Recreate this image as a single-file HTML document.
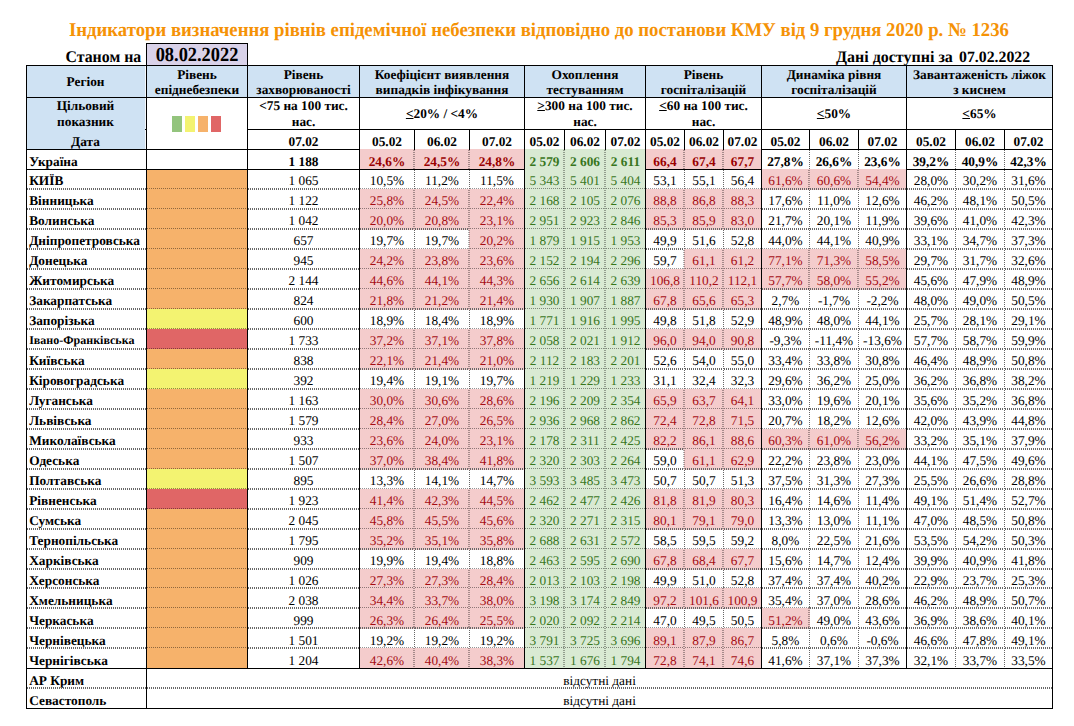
<!DOCTYPE html>
<html lang="uk"><head><meta charset="utf-8"><title>Індикатори епідемічної небезпеки</title>
<style>
html,body{margin:0;padding:0;background:#fff}
body{width:1074px;height:726px;position:relative;overflow:hidden;font-family:"Liberation Serif","DejaVu Serif",serif;color:#000;text-rendering:geometricPrecision}
div{position:absolute;box-sizing:border-box}
.x{font-size:13.33px;white-space:nowrap}
.bd{font-weight:bold}
.r{color:#a50d14}
.bd.r{color:#990000}
.g{color:#38761d}
.hl{height:1px;background:#000}
.vl{width:1px;background:#000}
.hd{height:2px;background-image:repeating-linear-gradient(90deg,#686868 0,#686868 1px,transparent 1px,transparent 2px)}
.hf{height:1px;background-image:repeating-linear-gradient(90deg,rgba(0,0,0,.42) 0,rgba(0,0,0,.42) 1px,transparent 1px,transparent 2px)}
.vd{width:1px;background-image:repeating-linear-gradient(180deg,#666 0,#666 1px,transparent 1px,transparent 2px)}
.vd2{width:2px;background-image:repeating-linear-gradient(180deg,rgba(0,0,0,.33) 0,rgba(0,0,0,.33) 1px,transparent 1px,transparent 2px)}
.t{white-space:nowrap;font-weight:bold}
u{text-decoration:underline;text-decoration-thickness:1px;text-underline-offset:0.3px}
</style></head>
<body>
<div class="b" style="left:26px;top:65px;width:1027px;height:33px;background:#cfe2f3"></div>
<div class="b" style="left:26px;top:97px;width:120px;height:53px;background:#cfe2f3"></div>
<div class="b" style="left:146px;top:43px;width:102px;height:23px;background:#d9d2e9"></div>
<div class="b" style="left:145px;top:66px;width:1px;height:83px;background:#f4f8fc"></div>
<div class="x bd" style="left:27px;top:153.51px;width:119px;height:15.00px;line-height:15.0px;text-align:left;padding-left:2.2px;">Україна</div>
<div class="x bd" style="left:248px;top:153.51px;width:111px;height:15.00px;line-height:15.0px;text-align:center;">1 188</div>
<div class="b" style="left:359px;top:149px;width:56px;height:21px;background:#f4cccc"></div>
<div class="x bd r" style="left:360px;top:153.51px;width:54px;height:15.00px;line-height:15.0px;text-align:center;">24,6%</div>
<div class="b" style="left:414px;top:149px;width:56px;height:21px;background:#f4cccc"></div>
<div class="x bd r" style="left:415px;top:153.51px;width:54px;height:15.00px;line-height:15.0px;text-align:center;">24,5%</div>
<div class="b" style="left:469px;top:149px;width:56px;height:21px;background:#f4cccc"></div>
<div class="x bd r" style="left:470px;top:153.51px;width:54px;height:15.00px;line-height:15.0px;text-align:center;">24,8%</div>
<div class="b" style="left:524px;top:149px;width:41px;height:21px;background:#d9ead3"></div>
<div class="x bd g" style="left:525px;top:153.51px;width:39px;height:15.00px;line-height:15.0px;text-align:center;">2 579</div>
<div class="b" style="left:564px;top:149px;width:42px;height:21px;background:#d9ead3"></div>
<div class="x bd g" style="left:565px;top:153.51px;width:40px;height:15.00px;line-height:15.0px;text-align:center;">2 606</div>
<div class="b" style="left:605px;top:149px;width:41px;height:21px;background:#d9ead3"></div>
<div class="x bd g" style="left:606px;top:153.51px;width:39px;height:15.00px;line-height:15.0px;text-align:center;">2 611</div>
<div class="b" style="left:645px;top:149px;width:40px;height:21px;background:#f4cccc"></div>
<div class="x bd r" style="left:646px;top:153.51px;width:38px;height:15.00px;line-height:15.0px;text-align:center;">66,4</div>
<div class="b" style="left:684px;top:149px;width:40px;height:21px;background:#f4cccc"></div>
<div class="x bd r" style="left:685px;top:153.51px;width:38px;height:15.00px;line-height:15.0px;text-align:center;">67,4</div>
<div class="b" style="left:723px;top:149px;width:39px;height:21px;background:#f4cccc"></div>
<div class="x bd r" style="left:724px;top:153.51px;width:37px;height:15.00px;line-height:15.0px;text-align:center;">67,7</div>
<div class="x bd" style="left:762px;top:153.51px;width:47px;height:15.00px;line-height:15.0px;text-align:center;">27,8%</div>
<div class="x bd" style="left:810px;top:153.51px;width:48px;height:15.00px;line-height:15.0px;text-align:center;">26,6%</div>
<div class="x bd" style="left:859px;top:153.51px;width:47px;height:15.00px;line-height:15.0px;text-align:center;">23,6%</div>
<div class="x bd" style="left:907px;top:153.51px;width:48px;height:15.00px;line-height:15.0px;text-align:center;">39,2%</div>
<div class="x bd" style="left:956px;top:153.51px;width:48px;height:15.00px;line-height:15.0px;text-align:center;">40,9%</div>
<div class="x bd" style="left:1005px;top:153.51px;width:47px;height:15.00px;line-height:15.0px;text-align:center;">42,3%</div>
<div class="x bd" style="left:27px;top:173.47px;width:119px;height:15.00px;line-height:15.0px;text-align:left;padding-left:2.2px;">КИЇВ</div>
<div class="b" style="left:146px;top:169px;width:102px;height:21px;background:#f6b26b"></div>
<div class="x " style="left:248px;top:173.47px;width:111px;height:15.00px;line-height:15.0px;text-align:center;">1 065</div>
<div class="x " style="left:360px;top:173.47px;width:54px;height:15.00px;line-height:15.0px;text-align:center;">10,5%</div>
<div class="x " style="left:415px;top:173.47px;width:54px;height:15.00px;line-height:15.0px;text-align:center;">11,2%</div>
<div class="x " style="left:470px;top:173.47px;width:54px;height:15.00px;line-height:15.0px;text-align:center;">11,5%</div>
<div class="b" style="left:524px;top:169px;width:41px;height:21px;background:#d9ead3"></div>
<div class="x g" style="left:525px;top:173.47px;width:39px;height:15.00px;line-height:15.0px;text-align:center;">5 343</div>
<div class="b" style="left:564px;top:169px;width:42px;height:21px;background:#d9ead3"></div>
<div class="x g" style="left:565px;top:173.47px;width:40px;height:15.00px;line-height:15.0px;text-align:center;">5 401</div>
<div class="b" style="left:605px;top:169px;width:41px;height:21px;background:#d9ead3"></div>
<div class="x g" style="left:606px;top:173.47px;width:39px;height:15.00px;line-height:15.0px;text-align:center;">5 404</div>
<div class="x " style="left:646px;top:173.47px;width:38px;height:15.00px;line-height:15.0px;text-align:center;">53,1</div>
<div class="x " style="left:685px;top:173.47px;width:38px;height:15.00px;line-height:15.0px;text-align:center;">55,1</div>
<div class="x " style="left:724px;top:173.47px;width:37px;height:15.00px;line-height:15.0px;text-align:center;">56,4</div>
<div class="b" style="left:761px;top:169px;width:49px;height:21px;background:#f4cccc"></div>
<div class="x r" style="left:762px;top:173.47px;width:47px;height:15.00px;line-height:15.0px;text-align:center;">61,6%</div>
<div class="b" style="left:809px;top:169px;width:50px;height:21px;background:#f4cccc"></div>
<div class="x r" style="left:810px;top:173.47px;width:48px;height:15.00px;line-height:15.0px;text-align:center;">60,6%</div>
<div class="b" style="left:858px;top:169px;width:49px;height:21px;background:#f4cccc"></div>
<div class="x r" style="left:859px;top:173.47px;width:47px;height:15.00px;line-height:15.0px;text-align:center;">54,4%</div>
<div class="x " style="left:907px;top:173.47px;width:48px;height:15.00px;line-height:15.0px;text-align:center;">28,0%</div>
<div class="x " style="left:956px;top:173.47px;width:48px;height:15.00px;line-height:15.0px;text-align:center;">30,2%</div>
<div class="x " style="left:1005px;top:173.47px;width:47px;height:15.00px;line-height:15.0px;text-align:center;">31,6%</div>
<div class="x bd" style="left:27px;top:193.43px;width:119px;height:15.00px;line-height:15.0px;text-align:left;padding-left:2.2px;">Вінницька</div>
<div class="b" style="left:146px;top:189px;width:102px;height:21px;background:#f6b26b"></div>
<div class="x " style="left:248px;top:193.43px;width:111px;height:15.00px;line-height:15.0px;text-align:center;">1 122</div>
<div class="b" style="left:359px;top:189px;width:56px;height:21px;background:#f4cccc"></div>
<div class="x r" style="left:360px;top:193.43px;width:54px;height:15.00px;line-height:15.0px;text-align:center;">25,8%</div>
<div class="b" style="left:414px;top:189px;width:56px;height:21px;background:#f4cccc"></div>
<div class="x r" style="left:415px;top:193.43px;width:54px;height:15.00px;line-height:15.0px;text-align:center;">24,5%</div>
<div class="b" style="left:469px;top:189px;width:56px;height:21px;background:#f4cccc"></div>
<div class="x r" style="left:470px;top:193.43px;width:54px;height:15.00px;line-height:15.0px;text-align:center;">22,4%</div>
<div class="b" style="left:524px;top:189px;width:41px;height:21px;background:#d9ead3"></div>
<div class="x g" style="left:525px;top:193.43px;width:39px;height:15.00px;line-height:15.0px;text-align:center;">2 168</div>
<div class="b" style="left:564px;top:189px;width:42px;height:21px;background:#d9ead3"></div>
<div class="x g" style="left:565px;top:193.43px;width:40px;height:15.00px;line-height:15.0px;text-align:center;">2 105</div>
<div class="b" style="left:605px;top:189px;width:41px;height:21px;background:#d9ead3"></div>
<div class="x g" style="left:606px;top:193.43px;width:39px;height:15.00px;line-height:15.0px;text-align:center;">2 076</div>
<div class="b" style="left:645px;top:189px;width:40px;height:21px;background:#f4cccc"></div>
<div class="x r" style="left:646px;top:193.43px;width:38px;height:15.00px;line-height:15.0px;text-align:center;">88,8</div>
<div class="b" style="left:684px;top:189px;width:40px;height:21px;background:#f4cccc"></div>
<div class="x r" style="left:685px;top:193.43px;width:38px;height:15.00px;line-height:15.0px;text-align:center;">86,8</div>
<div class="b" style="left:723px;top:189px;width:39px;height:21px;background:#f4cccc"></div>
<div class="x r" style="left:724px;top:193.43px;width:37px;height:15.00px;line-height:15.0px;text-align:center;">88,3</div>
<div class="x " style="left:762px;top:193.43px;width:47px;height:15.00px;line-height:15.0px;text-align:center;">17,6%</div>
<div class="x " style="left:810px;top:193.43px;width:48px;height:15.00px;line-height:15.0px;text-align:center;">11,0%</div>
<div class="x " style="left:859px;top:193.43px;width:47px;height:15.00px;line-height:15.0px;text-align:center;">12,6%</div>
<div class="x " style="left:907px;top:193.43px;width:48px;height:15.00px;line-height:15.0px;text-align:center;">46,2%</div>
<div class="x " style="left:956px;top:193.43px;width:48px;height:15.00px;line-height:15.0px;text-align:center;">48,1%</div>
<div class="x " style="left:1005px;top:193.43px;width:47px;height:15.00px;line-height:15.0px;text-align:center;">50,5%</div>
<div class="x bd" style="left:27px;top:213.39px;width:119px;height:15.00px;line-height:15.0px;text-align:left;padding-left:2.2px;">Волинська</div>
<div class="b" style="left:146px;top:209px;width:102px;height:21px;background:#f6b26b"></div>
<div class="x " style="left:248px;top:213.39px;width:111px;height:15.00px;line-height:15.0px;text-align:center;">1 042</div>
<div class="b" style="left:359px;top:209px;width:56px;height:21px;background:#f4cccc"></div>
<div class="x r" style="left:360px;top:213.39px;width:54px;height:15.00px;line-height:15.0px;text-align:center;">20,0%</div>
<div class="b" style="left:414px;top:209px;width:56px;height:21px;background:#f4cccc"></div>
<div class="x r" style="left:415px;top:213.39px;width:54px;height:15.00px;line-height:15.0px;text-align:center;">20,8%</div>
<div class="b" style="left:469px;top:209px;width:56px;height:21px;background:#f4cccc"></div>
<div class="x r" style="left:470px;top:213.39px;width:54px;height:15.00px;line-height:15.0px;text-align:center;">23,1%</div>
<div class="b" style="left:524px;top:209px;width:41px;height:21px;background:#d9ead3"></div>
<div class="x g" style="left:525px;top:213.39px;width:39px;height:15.00px;line-height:15.0px;text-align:center;">2 951</div>
<div class="b" style="left:564px;top:209px;width:42px;height:21px;background:#d9ead3"></div>
<div class="x g" style="left:565px;top:213.39px;width:40px;height:15.00px;line-height:15.0px;text-align:center;">2 923</div>
<div class="b" style="left:605px;top:209px;width:41px;height:21px;background:#d9ead3"></div>
<div class="x g" style="left:606px;top:213.39px;width:39px;height:15.00px;line-height:15.0px;text-align:center;">2 846</div>
<div class="b" style="left:645px;top:209px;width:40px;height:21px;background:#f4cccc"></div>
<div class="x r" style="left:646px;top:213.39px;width:38px;height:15.00px;line-height:15.0px;text-align:center;">85,3</div>
<div class="b" style="left:684px;top:209px;width:40px;height:21px;background:#f4cccc"></div>
<div class="x r" style="left:685px;top:213.39px;width:38px;height:15.00px;line-height:15.0px;text-align:center;">85,9</div>
<div class="b" style="left:723px;top:209px;width:39px;height:21px;background:#f4cccc"></div>
<div class="x r" style="left:724px;top:213.39px;width:37px;height:15.00px;line-height:15.0px;text-align:center;">83,0</div>
<div class="x " style="left:762px;top:213.39px;width:47px;height:15.00px;line-height:15.0px;text-align:center;">21,7%</div>
<div class="x " style="left:810px;top:213.39px;width:48px;height:15.00px;line-height:15.0px;text-align:center;">20,1%</div>
<div class="x " style="left:859px;top:213.39px;width:47px;height:15.00px;line-height:15.0px;text-align:center;">11,9%</div>
<div class="x " style="left:907px;top:213.39px;width:48px;height:15.00px;line-height:15.0px;text-align:center;">39,6%</div>
<div class="x " style="left:956px;top:213.39px;width:48px;height:15.00px;line-height:15.0px;text-align:center;">41,0%</div>
<div class="x " style="left:1005px;top:213.39px;width:47px;height:15.00px;line-height:15.0px;text-align:center;">42,3%</div>
<div class="x bd" style="left:27px;top:233.35px;width:119px;height:15.00px;line-height:15.0px;text-align:left;padding-left:2.2px;">Дніпропетровська</div>
<div class="b" style="left:146px;top:229px;width:102px;height:21px;background:#f6b26b"></div>
<div class="x " style="left:248px;top:233.35px;width:111px;height:15.00px;line-height:15.0px;text-align:center;">657</div>
<div class="x " style="left:360px;top:233.35px;width:54px;height:15.00px;line-height:15.0px;text-align:center;">19,7%</div>
<div class="x " style="left:415px;top:233.35px;width:54px;height:15.00px;line-height:15.0px;text-align:center;">19,7%</div>
<div class="b" style="left:469px;top:229px;width:56px;height:21px;background:#f4cccc"></div>
<div class="x r" style="left:470px;top:233.35px;width:54px;height:15.00px;line-height:15.0px;text-align:center;">20,2%</div>
<div class="b" style="left:524px;top:229px;width:41px;height:21px;background:#d9ead3"></div>
<div class="x g" style="left:525px;top:233.35px;width:39px;height:15.00px;line-height:15.0px;text-align:center;">1 879</div>
<div class="b" style="left:564px;top:229px;width:42px;height:21px;background:#d9ead3"></div>
<div class="x g" style="left:565px;top:233.35px;width:40px;height:15.00px;line-height:15.0px;text-align:center;">1 915</div>
<div class="b" style="left:605px;top:229px;width:41px;height:21px;background:#d9ead3"></div>
<div class="x g" style="left:606px;top:233.35px;width:39px;height:15.00px;line-height:15.0px;text-align:center;">1 953</div>
<div class="x " style="left:646px;top:233.35px;width:38px;height:15.00px;line-height:15.0px;text-align:center;">49,9</div>
<div class="x " style="left:685px;top:233.35px;width:38px;height:15.00px;line-height:15.0px;text-align:center;">51,6</div>
<div class="x " style="left:724px;top:233.35px;width:37px;height:15.00px;line-height:15.0px;text-align:center;">52,8</div>
<div class="x " style="left:762px;top:233.35px;width:47px;height:15.00px;line-height:15.0px;text-align:center;">44,0%</div>
<div class="x " style="left:810px;top:233.35px;width:48px;height:15.00px;line-height:15.0px;text-align:center;">44,1%</div>
<div class="x " style="left:859px;top:233.35px;width:47px;height:15.00px;line-height:15.0px;text-align:center;">40,9%</div>
<div class="x " style="left:907px;top:233.35px;width:48px;height:15.00px;line-height:15.0px;text-align:center;">33,1%</div>
<div class="x " style="left:956px;top:233.35px;width:48px;height:15.00px;line-height:15.0px;text-align:center;">34,7%</div>
<div class="x " style="left:1005px;top:233.35px;width:47px;height:15.00px;line-height:15.0px;text-align:center;">37,3%</div>
<div class="x bd" style="left:27px;top:253.31px;width:119px;height:15.00px;line-height:15.0px;text-align:left;padding-left:2.2px;">Донецька</div>
<div class="b" style="left:146px;top:249px;width:102px;height:21px;background:#f6b26b"></div>
<div class="x " style="left:248px;top:253.31px;width:111px;height:15.00px;line-height:15.0px;text-align:center;">945</div>
<div class="b" style="left:359px;top:249px;width:56px;height:21px;background:#f4cccc"></div>
<div class="x r" style="left:360px;top:253.31px;width:54px;height:15.00px;line-height:15.0px;text-align:center;">24,2%</div>
<div class="b" style="left:414px;top:249px;width:56px;height:21px;background:#f4cccc"></div>
<div class="x r" style="left:415px;top:253.31px;width:54px;height:15.00px;line-height:15.0px;text-align:center;">23,8%</div>
<div class="b" style="left:469px;top:249px;width:56px;height:21px;background:#f4cccc"></div>
<div class="x r" style="left:470px;top:253.31px;width:54px;height:15.00px;line-height:15.0px;text-align:center;">23,6%</div>
<div class="b" style="left:524px;top:249px;width:41px;height:21px;background:#d9ead3"></div>
<div class="x g" style="left:525px;top:253.31px;width:39px;height:15.00px;line-height:15.0px;text-align:center;">2 152</div>
<div class="b" style="left:564px;top:249px;width:42px;height:21px;background:#d9ead3"></div>
<div class="x g" style="left:565px;top:253.31px;width:40px;height:15.00px;line-height:15.0px;text-align:center;">2 194</div>
<div class="b" style="left:605px;top:249px;width:41px;height:21px;background:#d9ead3"></div>
<div class="x g" style="left:606px;top:253.31px;width:39px;height:15.00px;line-height:15.0px;text-align:center;">2 296</div>
<div class="x " style="left:646px;top:253.31px;width:38px;height:15.00px;line-height:15.0px;text-align:center;">59,7</div>
<div class="b" style="left:684px;top:249px;width:40px;height:21px;background:#f4cccc"></div>
<div class="x r" style="left:685px;top:253.31px;width:38px;height:15.00px;line-height:15.0px;text-align:center;">61,1</div>
<div class="b" style="left:723px;top:249px;width:39px;height:21px;background:#f4cccc"></div>
<div class="x r" style="left:724px;top:253.31px;width:37px;height:15.00px;line-height:15.0px;text-align:center;">61,2</div>
<div class="b" style="left:761px;top:249px;width:49px;height:21px;background:#f4cccc"></div>
<div class="x r" style="left:762px;top:253.31px;width:47px;height:15.00px;line-height:15.0px;text-align:center;">77,1%</div>
<div class="b" style="left:809px;top:249px;width:50px;height:21px;background:#f4cccc"></div>
<div class="x r" style="left:810px;top:253.31px;width:48px;height:15.00px;line-height:15.0px;text-align:center;">71,3%</div>
<div class="b" style="left:858px;top:249px;width:49px;height:21px;background:#f4cccc"></div>
<div class="x r" style="left:859px;top:253.31px;width:47px;height:15.00px;line-height:15.0px;text-align:center;">58,5%</div>
<div class="x " style="left:907px;top:253.31px;width:48px;height:15.00px;line-height:15.0px;text-align:center;">29,7%</div>
<div class="x " style="left:956px;top:253.31px;width:48px;height:15.00px;line-height:15.0px;text-align:center;">31,7%</div>
<div class="x " style="left:1005px;top:253.31px;width:47px;height:15.00px;line-height:15.0px;text-align:center;">32,6%</div>
<div class="x bd" style="left:27px;top:273.27px;width:119px;height:15.00px;line-height:15.0px;text-align:left;padding-left:2.2px;">Житомирська</div>
<div class="b" style="left:146px;top:269px;width:102px;height:21px;background:#f6b26b"></div>
<div class="x " style="left:248px;top:273.27px;width:111px;height:15.00px;line-height:15.0px;text-align:center;">2 144</div>
<div class="b" style="left:359px;top:269px;width:56px;height:21px;background:#f4cccc"></div>
<div class="x r" style="left:360px;top:273.27px;width:54px;height:15.00px;line-height:15.0px;text-align:center;">44,6%</div>
<div class="b" style="left:414px;top:269px;width:56px;height:21px;background:#f4cccc"></div>
<div class="x r" style="left:415px;top:273.27px;width:54px;height:15.00px;line-height:15.0px;text-align:center;">44,1%</div>
<div class="b" style="left:469px;top:269px;width:56px;height:21px;background:#f4cccc"></div>
<div class="x r" style="left:470px;top:273.27px;width:54px;height:15.00px;line-height:15.0px;text-align:center;">44,3%</div>
<div class="b" style="left:524px;top:269px;width:41px;height:21px;background:#d9ead3"></div>
<div class="x g" style="left:525px;top:273.27px;width:39px;height:15.00px;line-height:15.0px;text-align:center;">2 656</div>
<div class="b" style="left:564px;top:269px;width:42px;height:21px;background:#d9ead3"></div>
<div class="x g" style="left:565px;top:273.27px;width:40px;height:15.00px;line-height:15.0px;text-align:center;">2 614</div>
<div class="b" style="left:605px;top:269px;width:41px;height:21px;background:#d9ead3"></div>
<div class="x g" style="left:606px;top:273.27px;width:39px;height:15.00px;line-height:15.0px;text-align:center;">2 639</div>
<div class="b" style="left:645px;top:269px;width:40px;height:21px;background:#f4cccc"></div>
<div class="x r" style="left:646px;top:273.27px;width:38px;height:15.00px;line-height:15.0px;text-align:center;">106,8</div>
<div class="b" style="left:684px;top:269px;width:40px;height:21px;background:#f4cccc"></div>
<div class="x r" style="left:685px;top:273.27px;width:38px;height:15.00px;line-height:15.0px;text-align:center;">110,2</div>
<div class="b" style="left:723px;top:269px;width:39px;height:21px;background:#f4cccc"></div>
<div class="x r" style="left:724px;top:273.27px;width:37px;height:15.00px;line-height:15.0px;text-align:center;">112,1</div>
<div class="b" style="left:761px;top:269px;width:49px;height:21px;background:#f4cccc"></div>
<div class="x r" style="left:762px;top:273.27px;width:47px;height:15.00px;line-height:15.0px;text-align:center;">57,7%</div>
<div class="b" style="left:809px;top:269px;width:50px;height:21px;background:#f4cccc"></div>
<div class="x r" style="left:810px;top:273.27px;width:48px;height:15.00px;line-height:15.0px;text-align:center;">58,0%</div>
<div class="b" style="left:858px;top:269px;width:49px;height:21px;background:#f4cccc"></div>
<div class="x r" style="left:859px;top:273.27px;width:47px;height:15.00px;line-height:15.0px;text-align:center;">55,2%</div>
<div class="x " style="left:907px;top:273.27px;width:48px;height:15.00px;line-height:15.0px;text-align:center;">45,6%</div>
<div class="x " style="left:956px;top:273.27px;width:48px;height:15.00px;line-height:15.0px;text-align:center;">47,9%</div>
<div class="x " style="left:1005px;top:273.27px;width:47px;height:15.00px;line-height:15.0px;text-align:center;">48,9%</div>
<div class="x bd" style="left:27px;top:293.23px;width:119px;height:15.00px;line-height:15.0px;text-align:left;padding-left:2.2px;">Закарпатська</div>
<div class="b" style="left:146px;top:289px;width:102px;height:21px;background:#f6b26b"></div>
<div class="x " style="left:248px;top:293.23px;width:111px;height:15.00px;line-height:15.0px;text-align:center;">824</div>
<div class="b" style="left:359px;top:289px;width:56px;height:21px;background:#f4cccc"></div>
<div class="x r" style="left:360px;top:293.23px;width:54px;height:15.00px;line-height:15.0px;text-align:center;">21,8%</div>
<div class="b" style="left:414px;top:289px;width:56px;height:21px;background:#f4cccc"></div>
<div class="x r" style="left:415px;top:293.23px;width:54px;height:15.00px;line-height:15.0px;text-align:center;">21,2%</div>
<div class="b" style="left:469px;top:289px;width:56px;height:21px;background:#f4cccc"></div>
<div class="x r" style="left:470px;top:293.23px;width:54px;height:15.00px;line-height:15.0px;text-align:center;">21,4%</div>
<div class="b" style="left:524px;top:289px;width:41px;height:21px;background:#d9ead3"></div>
<div class="x g" style="left:525px;top:293.23px;width:39px;height:15.00px;line-height:15.0px;text-align:center;">1 930</div>
<div class="b" style="left:564px;top:289px;width:42px;height:21px;background:#d9ead3"></div>
<div class="x g" style="left:565px;top:293.23px;width:40px;height:15.00px;line-height:15.0px;text-align:center;">1 907</div>
<div class="b" style="left:605px;top:289px;width:41px;height:21px;background:#d9ead3"></div>
<div class="x g" style="left:606px;top:293.23px;width:39px;height:15.00px;line-height:15.0px;text-align:center;">1 887</div>
<div class="b" style="left:645px;top:289px;width:40px;height:21px;background:#f4cccc"></div>
<div class="x r" style="left:646px;top:293.23px;width:38px;height:15.00px;line-height:15.0px;text-align:center;">67,8</div>
<div class="b" style="left:684px;top:289px;width:40px;height:21px;background:#f4cccc"></div>
<div class="x r" style="left:685px;top:293.23px;width:38px;height:15.00px;line-height:15.0px;text-align:center;">65,6</div>
<div class="b" style="left:723px;top:289px;width:39px;height:21px;background:#f4cccc"></div>
<div class="x r" style="left:724px;top:293.23px;width:37px;height:15.00px;line-height:15.0px;text-align:center;">65,3</div>
<div class="x " style="left:762px;top:293.23px;width:47px;height:15.00px;line-height:15.0px;text-align:center;">2,7%</div>
<div class="x " style="left:810px;top:293.23px;width:48px;height:15.00px;line-height:15.0px;text-align:center;">-1,7%</div>
<div class="x " style="left:859px;top:293.23px;width:47px;height:15.00px;line-height:15.0px;text-align:center;">-2,2%</div>
<div class="x " style="left:907px;top:293.23px;width:48px;height:15.00px;line-height:15.0px;text-align:center;">48,0%</div>
<div class="x " style="left:956px;top:293.23px;width:48px;height:15.00px;line-height:15.0px;text-align:center;">49,0%</div>
<div class="x " style="left:1005px;top:293.23px;width:47px;height:15.00px;line-height:15.0px;text-align:center;">50,5%</div>
<div class="x bd" style="left:27px;top:313.19px;width:119px;height:15.00px;line-height:15.0px;text-align:left;padding-left:2.2px;">Запорізька</div>
<div class="b" style="left:146px;top:309px;width:102px;height:21px;background:#f3f371"></div>
<div class="x " style="left:248px;top:313.19px;width:111px;height:15.00px;line-height:15.0px;text-align:center;">600</div>
<div class="x " style="left:360px;top:313.19px;width:54px;height:15.00px;line-height:15.0px;text-align:center;">18,9%</div>
<div class="x " style="left:415px;top:313.19px;width:54px;height:15.00px;line-height:15.0px;text-align:center;">18,4%</div>
<div class="x " style="left:470px;top:313.19px;width:54px;height:15.00px;line-height:15.0px;text-align:center;">18,9%</div>
<div class="b" style="left:524px;top:309px;width:41px;height:21px;background:#d9ead3"></div>
<div class="x g" style="left:525px;top:313.19px;width:39px;height:15.00px;line-height:15.0px;text-align:center;">1 771</div>
<div class="b" style="left:564px;top:309px;width:42px;height:21px;background:#d9ead3"></div>
<div class="x g" style="left:565px;top:313.19px;width:40px;height:15.00px;line-height:15.0px;text-align:center;">1 916</div>
<div class="b" style="left:605px;top:309px;width:41px;height:21px;background:#d9ead3"></div>
<div class="x g" style="left:606px;top:313.19px;width:39px;height:15.00px;line-height:15.0px;text-align:center;">1 995</div>
<div class="x " style="left:646px;top:313.19px;width:38px;height:15.00px;line-height:15.0px;text-align:center;">49,8</div>
<div class="x " style="left:685px;top:313.19px;width:38px;height:15.00px;line-height:15.0px;text-align:center;">51,8</div>
<div class="x " style="left:724px;top:313.19px;width:37px;height:15.00px;line-height:15.0px;text-align:center;">52,9</div>
<div class="x " style="left:762px;top:313.19px;width:47px;height:15.00px;line-height:15.0px;text-align:center;">48,9%</div>
<div class="x " style="left:810px;top:313.19px;width:48px;height:15.00px;line-height:15.0px;text-align:center;">48,0%</div>
<div class="x " style="left:859px;top:313.19px;width:47px;height:15.00px;line-height:15.0px;text-align:center;">44,1%</div>
<div class="x " style="left:907px;top:313.19px;width:48px;height:15.00px;line-height:15.0px;text-align:center;">25,7%</div>
<div class="x " style="left:956px;top:313.19px;width:48px;height:15.00px;line-height:15.0px;text-align:center;">28,1%</div>
<div class="x " style="left:1005px;top:313.19px;width:47px;height:15.00px;line-height:15.0px;text-align:center;">29,1%</div>
<div class="x bd" style="left:27px;top:333.40px;width:119px;height:15.00px;line-height:15.0px;text-align:left;font-size:12.0px;padding-left:2.2px;">Івано-Франківська</div>
<div class="b" style="left:146px;top:329px;width:102px;height:21px;background:#e06666"></div>
<div class="x " style="left:248px;top:333.15px;width:111px;height:15.00px;line-height:15.0px;text-align:center;">1 733</div>
<div class="b" style="left:359px;top:329px;width:56px;height:21px;background:#f4cccc"></div>
<div class="x r" style="left:360px;top:333.15px;width:54px;height:15.00px;line-height:15.0px;text-align:center;">37,2%</div>
<div class="b" style="left:414px;top:329px;width:56px;height:21px;background:#f4cccc"></div>
<div class="x r" style="left:415px;top:333.15px;width:54px;height:15.00px;line-height:15.0px;text-align:center;">37,1%</div>
<div class="b" style="left:469px;top:329px;width:56px;height:21px;background:#f4cccc"></div>
<div class="x r" style="left:470px;top:333.15px;width:54px;height:15.00px;line-height:15.0px;text-align:center;">37,8%</div>
<div class="b" style="left:524px;top:329px;width:41px;height:21px;background:#d9ead3"></div>
<div class="x g" style="left:525px;top:333.15px;width:39px;height:15.00px;line-height:15.0px;text-align:center;">2 058</div>
<div class="b" style="left:564px;top:329px;width:42px;height:21px;background:#d9ead3"></div>
<div class="x g" style="left:565px;top:333.15px;width:40px;height:15.00px;line-height:15.0px;text-align:center;">2 021</div>
<div class="b" style="left:605px;top:329px;width:41px;height:21px;background:#d9ead3"></div>
<div class="x g" style="left:606px;top:333.15px;width:39px;height:15.00px;line-height:15.0px;text-align:center;">1 912</div>
<div class="b" style="left:645px;top:329px;width:40px;height:21px;background:#f4cccc"></div>
<div class="x r" style="left:646px;top:333.15px;width:38px;height:15.00px;line-height:15.0px;text-align:center;">96,0</div>
<div class="b" style="left:684px;top:329px;width:40px;height:21px;background:#f4cccc"></div>
<div class="x r" style="left:685px;top:333.15px;width:38px;height:15.00px;line-height:15.0px;text-align:center;">94,0</div>
<div class="b" style="left:723px;top:329px;width:39px;height:21px;background:#f4cccc"></div>
<div class="x r" style="left:724px;top:333.15px;width:37px;height:15.00px;line-height:15.0px;text-align:center;">90,8</div>
<div class="x " style="left:762px;top:333.15px;width:47px;height:15.00px;line-height:15.0px;text-align:center;">-9,3%</div>
<div class="x " style="left:810px;top:333.15px;width:48px;height:15.00px;line-height:15.0px;text-align:center;">-11,4%</div>
<div class="x " style="left:859px;top:333.15px;width:47px;height:15.00px;line-height:15.0px;text-align:center;">-13,6%</div>
<div class="x " style="left:907px;top:333.15px;width:48px;height:15.00px;line-height:15.0px;text-align:center;">57,7%</div>
<div class="x " style="left:956px;top:333.15px;width:48px;height:15.00px;line-height:15.0px;text-align:center;">58,7%</div>
<div class="x " style="left:1005px;top:333.15px;width:47px;height:15.00px;line-height:15.0px;text-align:center;">59,9%</div>
<div class="x bd" style="left:27px;top:353.11px;width:119px;height:15.00px;line-height:15.0px;text-align:left;padding-left:2.2px;">Київська</div>
<div class="b" style="left:146px;top:349px;width:102px;height:21px;background:#f6b26b"></div>
<div class="x " style="left:248px;top:353.11px;width:111px;height:15.00px;line-height:15.0px;text-align:center;">838</div>
<div class="b" style="left:359px;top:349px;width:56px;height:21px;background:#f4cccc"></div>
<div class="x r" style="left:360px;top:353.11px;width:54px;height:15.00px;line-height:15.0px;text-align:center;">22,1%</div>
<div class="b" style="left:414px;top:349px;width:56px;height:21px;background:#f4cccc"></div>
<div class="x r" style="left:415px;top:353.11px;width:54px;height:15.00px;line-height:15.0px;text-align:center;">21,4%</div>
<div class="b" style="left:469px;top:349px;width:56px;height:21px;background:#f4cccc"></div>
<div class="x r" style="left:470px;top:353.11px;width:54px;height:15.00px;line-height:15.0px;text-align:center;">21,0%</div>
<div class="b" style="left:524px;top:349px;width:41px;height:21px;background:#d9ead3"></div>
<div class="x g" style="left:525px;top:353.11px;width:39px;height:15.00px;line-height:15.0px;text-align:center;">2 112</div>
<div class="b" style="left:564px;top:349px;width:42px;height:21px;background:#d9ead3"></div>
<div class="x g" style="left:565px;top:353.11px;width:40px;height:15.00px;line-height:15.0px;text-align:center;">2 183</div>
<div class="b" style="left:605px;top:349px;width:41px;height:21px;background:#d9ead3"></div>
<div class="x g" style="left:606px;top:353.11px;width:39px;height:15.00px;line-height:15.0px;text-align:center;">2 201</div>
<div class="x " style="left:646px;top:353.11px;width:38px;height:15.00px;line-height:15.0px;text-align:center;">52,6</div>
<div class="x " style="left:685px;top:353.11px;width:38px;height:15.00px;line-height:15.0px;text-align:center;">54,0</div>
<div class="x " style="left:724px;top:353.11px;width:37px;height:15.00px;line-height:15.0px;text-align:center;">55,0</div>
<div class="x " style="left:762px;top:353.11px;width:47px;height:15.00px;line-height:15.0px;text-align:center;">33,4%</div>
<div class="x " style="left:810px;top:353.11px;width:48px;height:15.00px;line-height:15.0px;text-align:center;">33,8%</div>
<div class="x " style="left:859px;top:353.11px;width:47px;height:15.00px;line-height:15.0px;text-align:center;">30,8%</div>
<div class="x " style="left:907px;top:353.11px;width:48px;height:15.00px;line-height:15.0px;text-align:center;">46,4%</div>
<div class="x " style="left:956px;top:353.11px;width:48px;height:15.00px;line-height:15.0px;text-align:center;">48,9%</div>
<div class="x " style="left:1005px;top:353.11px;width:47px;height:15.00px;line-height:15.0px;text-align:center;">50,8%</div>
<div class="x bd" style="left:27px;top:373.07px;width:119px;height:15.00px;line-height:15.0px;text-align:left;padding-left:2.2px;">Кіровоградська</div>
<div class="b" style="left:146px;top:369px;width:102px;height:21px;background:#f3f371"></div>
<div class="x " style="left:248px;top:373.07px;width:111px;height:15.00px;line-height:15.0px;text-align:center;">392</div>
<div class="x " style="left:360px;top:373.07px;width:54px;height:15.00px;line-height:15.0px;text-align:center;">19,4%</div>
<div class="x " style="left:415px;top:373.07px;width:54px;height:15.00px;line-height:15.0px;text-align:center;">19,1%</div>
<div class="x " style="left:470px;top:373.07px;width:54px;height:15.00px;line-height:15.0px;text-align:center;">19,7%</div>
<div class="b" style="left:524px;top:369px;width:41px;height:21px;background:#d9ead3"></div>
<div class="x g" style="left:525px;top:373.07px;width:39px;height:15.00px;line-height:15.0px;text-align:center;">1 219</div>
<div class="b" style="left:564px;top:369px;width:42px;height:21px;background:#d9ead3"></div>
<div class="x g" style="left:565px;top:373.07px;width:40px;height:15.00px;line-height:15.0px;text-align:center;">1 229</div>
<div class="b" style="left:605px;top:369px;width:41px;height:21px;background:#d9ead3"></div>
<div class="x g" style="left:606px;top:373.07px;width:39px;height:15.00px;line-height:15.0px;text-align:center;">1 233</div>
<div class="x " style="left:646px;top:373.07px;width:38px;height:15.00px;line-height:15.0px;text-align:center;">31,1</div>
<div class="x " style="left:685px;top:373.07px;width:38px;height:15.00px;line-height:15.0px;text-align:center;">32,4</div>
<div class="x " style="left:724px;top:373.07px;width:37px;height:15.00px;line-height:15.0px;text-align:center;">32,3</div>
<div class="x " style="left:762px;top:373.07px;width:47px;height:15.00px;line-height:15.0px;text-align:center;">29,6%</div>
<div class="x " style="left:810px;top:373.07px;width:48px;height:15.00px;line-height:15.0px;text-align:center;">36,2%</div>
<div class="x " style="left:859px;top:373.07px;width:47px;height:15.00px;line-height:15.0px;text-align:center;">25,0%</div>
<div class="x " style="left:907px;top:373.07px;width:48px;height:15.00px;line-height:15.0px;text-align:center;">36,2%</div>
<div class="x " style="left:956px;top:373.07px;width:48px;height:15.00px;line-height:15.0px;text-align:center;">36,8%</div>
<div class="x " style="left:1005px;top:373.07px;width:47px;height:15.00px;line-height:15.0px;text-align:center;">38,2%</div>
<div class="x bd" style="left:27px;top:393.03px;width:119px;height:15.00px;line-height:15.0px;text-align:left;padding-left:2.2px;">Луганська</div>
<div class="b" style="left:146px;top:389px;width:102px;height:21px;background:#f6b26b"></div>
<div class="x " style="left:248px;top:393.03px;width:111px;height:15.00px;line-height:15.0px;text-align:center;">1 163</div>
<div class="b" style="left:359px;top:389px;width:56px;height:21px;background:#f4cccc"></div>
<div class="x r" style="left:360px;top:393.03px;width:54px;height:15.00px;line-height:15.0px;text-align:center;">30,0%</div>
<div class="b" style="left:414px;top:389px;width:56px;height:21px;background:#f4cccc"></div>
<div class="x r" style="left:415px;top:393.03px;width:54px;height:15.00px;line-height:15.0px;text-align:center;">30,6%</div>
<div class="b" style="left:469px;top:389px;width:56px;height:21px;background:#f4cccc"></div>
<div class="x r" style="left:470px;top:393.03px;width:54px;height:15.00px;line-height:15.0px;text-align:center;">28,6%</div>
<div class="b" style="left:524px;top:389px;width:41px;height:21px;background:#d9ead3"></div>
<div class="x g" style="left:525px;top:393.03px;width:39px;height:15.00px;line-height:15.0px;text-align:center;">2 196</div>
<div class="b" style="left:564px;top:389px;width:42px;height:21px;background:#d9ead3"></div>
<div class="x g" style="left:565px;top:393.03px;width:40px;height:15.00px;line-height:15.0px;text-align:center;">2 209</div>
<div class="b" style="left:605px;top:389px;width:41px;height:21px;background:#d9ead3"></div>
<div class="x g" style="left:606px;top:393.03px;width:39px;height:15.00px;line-height:15.0px;text-align:center;">2 354</div>
<div class="b" style="left:645px;top:389px;width:40px;height:21px;background:#f4cccc"></div>
<div class="x r" style="left:646px;top:393.03px;width:38px;height:15.00px;line-height:15.0px;text-align:center;">65,9</div>
<div class="b" style="left:684px;top:389px;width:40px;height:21px;background:#f4cccc"></div>
<div class="x r" style="left:685px;top:393.03px;width:38px;height:15.00px;line-height:15.0px;text-align:center;">63,7</div>
<div class="b" style="left:723px;top:389px;width:39px;height:21px;background:#f4cccc"></div>
<div class="x r" style="left:724px;top:393.03px;width:37px;height:15.00px;line-height:15.0px;text-align:center;">64,1</div>
<div class="x " style="left:762px;top:393.03px;width:47px;height:15.00px;line-height:15.0px;text-align:center;">33,0%</div>
<div class="x " style="left:810px;top:393.03px;width:48px;height:15.00px;line-height:15.0px;text-align:center;">19,6%</div>
<div class="x " style="left:859px;top:393.03px;width:47px;height:15.00px;line-height:15.0px;text-align:center;">20,1%</div>
<div class="x " style="left:907px;top:393.03px;width:48px;height:15.00px;line-height:15.0px;text-align:center;">35,6%</div>
<div class="x " style="left:956px;top:393.03px;width:48px;height:15.00px;line-height:15.0px;text-align:center;">35,2%</div>
<div class="x " style="left:1005px;top:393.03px;width:47px;height:15.00px;line-height:15.0px;text-align:center;">36,8%</div>
<div class="x bd" style="left:27px;top:412.99px;width:119px;height:15.00px;line-height:15.0px;text-align:left;padding-left:2.2px;">Львівська</div>
<div class="b" style="left:146px;top:409px;width:102px;height:21px;background:#f6b26b"></div>
<div class="x " style="left:248px;top:412.99px;width:111px;height:15.00px;line-height:15.0px;text-align:center;">1 579</div>
<div class="b" style="left:359px;top:409px;width:56px;height:21px;background:#f4cccc"></div>
<div class="x r" style="left:360px;top:412.99px;width:54px;height:15.00px;line-height:15.0px;text-align:center;">28,4%</div>
<div class="b" style="left:414px;top:409px;width:56px;height:21px;background:#f4cccc"></div>
<div class="x r" style="left:415px;top:412.99px;width:54px;height:15.00px;line-height:15.0px;text-align:center;">27,0%</div>
<div class="b" style="left:469px;top:409px;width:56px;height:21px;background:#f4cccc"></div>
<div class="x r" style="left:470px;top:412.99px;width:54px;height:15.00px;line-height:15.0px;text-align:center;">26,5%</div>
<div class="b" style="left:524px;top:409px;width:41px;height:21px;background:#d9ead3"></div>
<div class="x g" style="left:525px;top:412.99px;width:39px;height:15.00px;line-height:15.0px;text-align:center;">2 936</div>
<div class="b" style="left:564px;top:409px;width:42px;height:21px;background:#d9ead3"></div>
<div class="x g" style="left:565px;top:412.99px;width:40px;height:15.00px;line-height:15.0px;text-align:center;">2 968</div>
<div class="b" style="left:605px;top:409px;width:41px;height:21px;background:#d9ead3"></div>
<div class="x g" style="left:606px;top:412.99px;width:39px;height:15.00px;line-height:15.0px;text-align:center;">2 862</div>
<div class="b" style="left:645px;top:409px;width:40px;height:21px;background:#f4cccc"></div>
<div class="x r" style="left:646px;top:412.99px;width:38px;height:15.00px;line-height:15.0px;text-align:center;">72,4</div>
<div class="b" style="left:684px;top:409px;width:40px;height:21px;background:#f4cccc"></div>
<div class="x r" style="left:685px;top:412.99px;width:38px;height:15.00px;line-height:15.0px;text-align:center;">72,8</div>
<div class="b" style="left:723px;top:409px;width:39px;height:21px;background:#f4cccc"></div>
<div class="x r" style="left:724px;top:412.99px;width:37px;height:15.00px;line-height:15.0px;text-align:center;">71,5</div>
<div class="x " style="left:762px;top:412.99px;width:47px;height:15.00px;line-height:15.0px;text-align:center;">20,7%</div>
<div class="x " style="left:810px;top:412.99px;width:48px;height:15.00px;line-height:15.0px;text-align:center;">18,2%</div>
<div class="x " style="left:859px;top:412.99px;width:47px;height:15.00px;line-height:15.0px;text-align:center;">12,6%</div>
<div class="x " style="left:907px;top:412.99px;width:48px;height:15.00px;line-height:15.0px;text-align:center;">42,0%</div>
<div class="x " style="left:956px;top:412.99px;width:48px;height:15.00px;line-height:15.0px;text-align:center;">43,9%</div>
<div class="x " style="left:1005px;top:412.99px;width:47px;height:15.00px;line-height:15.0px;text-align:center;">44,8%</div>
<div class="x bd" style="left:27px;top:432.95px;width:119px;height:15.00px;line-height:15.0px;text-align:left;padding-left:2.2px;">Миколаївська</div>
<div class="b" style="left:146px;top:429px;width:102px;height:21px;background:#f6b26b"></div>
<div class="x " style="left:248px;top:432.95px;width:111px;height:15.00px;line-height:15.0px;text-align:center;">933</div>
<div class="b" style="left:359px;top:429px;width:56px;height:21px;background:#f4cccc"></div>
<div class="x r" style="left:360px;top:432.95px;width:54px;height:15.00px;line-height:15.0px;text-align:center;">23,6%</div>
<div class="b" style="left:414px;top:429px;width:56px;height:21px;background:#f4cccc"></div>
<div class="x r" style="left:415px;top:432.95px;width:54px;height:15.00px;line-height:15.0px;text-align:center;">24,0%</div>
<div class="b" style="left:469px;top:429px;width:56px;height:21px;background:#f4cccc"></div>
<div class="x r" style="left:470px;top:432.95px;width:54px;height:15.00px;line-height:15.0px;text-align:center;">23,1%</div>
<div class="b" style="left:524px;top:429px;width:41px;height:21px;background:#d9ead3"></div>
<div class="x g" style="left:525px;top:432.95px;width:39px;height:15.00px;line-height:15.0px;text-align:center;">2 178</div>
<div class="b" style="left:564px;top:429px;width:42px;height:21px;background:#d9ead3"></div>
<div class="x g" style="left:565px;top:432.95px;width:40px;height:15.00px;line-height:15.0px;text-align:center;">2 311</div>
<div class="b" style="left:605px;top:429px;width:41px;height:21px;background:#d9ead3"></div>
<div class="x g" style="left:606px;top:432.95px;width:39px;height:15.00px;line-height:15.0px;text-align:center;">2 425</div>
<div class="b" style="left:645px;top:429px;width:40px;height:21px;background:#f4cccc"></div>
<div class="x r" style="left:646px;top:432.95px;width:38px;height:15.00px;line-height:15.0px;text-align:center;">82,2</div>
<div class="b" style="left:684px;top:429px;width:40px;height:21px;background:#f4cccc"></div>
<div class="x r" style="left:685px;top:432.95px;width:38px;height:15.00px;line-height:15.0px;text-align:center;">86,1</div>
<div class="b" style="left:723px;top:429px;width:39px;height:21px;background:#f4cccc"></div>
<div class="x r" style="left:724px;top:432.95px;width:37px;height:15.00px;line-height:15.0px;text-align:center;">88,6</div>
<div class="b" style="left:761px;top:429px;width:49px;height:21px;background:#f4cccc"></div>
<div class="x r" style="left:762px;top:432.95px;width:47px;height:15.00px;line-height:15.0px;text-align:center;">60,3%</div>
<div class="b" style="left:809px;top:429px;width:50px;height:21px;background:#f4cccc"></div>
<div class="x r" style="left:810px;top:432.95px;width:48px;height:15.00px;line-height:15.0px;text-align:center;">61,0%</div>
<div class="b" style="left:858px;top:429px;width:49px;height:21px;background:#f4cccc"></div>
<div class="x r" style="left:859px;top:432.95px;width:47px;height:15.00px;line-height:15.0px;text-align:center;">56,2%</div>
<div class="x " style="left:907px;top:432.95px;width:48px;height:15.00px;line-height:15.0px;text-align:center;">33,2%</div>
<div class="x " style="left:956px;top:432.95px;width:48px;height:15.00px;line-height:15.0px;text-align:center;">35,1%</div>
<div class="x " style="left:1005px;top:432.95px;width:47px;height:15.00px;line-height:15.0px;text-align:center;">37,9%</div>
<div class="x bd" style="left:27px;top:452.91px;width:119px;height:15.00px;line-height:15.0px;text-align:left;padding-left:2.2px;">Одеська</div>
<div class="b" style="left:146px;top:449px;width:102px;height:21px;background:#f6b26b"></div>
<div class="x " style="left:248px;top:452.91px;width:111px;height:15.00px;line-height:15.0px;text-align:center;">1 507</div>
<div class="b" style="left:359px;top:449px;width:56px;height:21px;background:#f4cccc"></div>
<div class="x r" style="left:360px;top:452.91px;width:54px;height:15.00px;line-height:15.0px;text-align:center;">37,0%</div>
<div class="b" style="left:414px;top:449px;width:56px;height:21px;background:#f4cccc"></div>
<div class="x r" style="left:415px;top:452.91px;width:54px;height:15.00px;line-height:15.0px;text-align:center;">38,4%</div>
<div class="b" style="left:469px;top:449px;width:56px;height:21px;background:#f4cccc"></div>
<div class="x r" style="left:470px;top:452.91px;width:54px;height:15.00px;line-height:15.0px;text-align:center;">41,8%</div>
<div class="b" style="left:524px;top:449px;width:41px;height:21px;background:#d9ead3"></div>
<div class="x g" style="left:525px;top:452.91px;width:39px;height:15.00px;line-height:15.0px;text-align:center;">2 320</div>
<div class="b" style="left:564px;top:449px;width:42px;height:21px;background:#d9ead3"></div>
<div class="x g" style="left:565px;top:452.91px;width:40px;height:15.00px;line-height:15.0px;text-align:center;">2 303</div>
<div class="b" style="left:605px;top:449px;width:41px;height:21px;background:#d9ead3"></div>
<div class="x g" style="left:606px;top:452.91px;width:39px;height:15.00px;line-height:15.0px;text-align:center;">2 264</div>
<div class="x " style="left:646px;top:452.91px;width:38px;height:15.00px;line-height:15.0px;text-align:center;">59,0</div>
<div class="b" style="left:684px;top:449px;width:40px;height:21px;background:#f4cccc"></div>
<div class="x r" style="left:685px;top:452.91px;width:38px;height:15.00px;line-height:15.0px;text-align:center;">61,1</div>
<div class="b" style="left:723px;top:449px;width:39px;height:21px;background:#f4cccc"></div>
<div class="x r" style="left:724px;top:452.91px;width:37px;height:15.00px;line-height:15.0px;text-align:center;">62,9</div>
<div class="x " style="left:762px;top:452.91px;width:47px;height:15.00px;line-height:15.0px;text-align:center;">22,2%</div>
<div class="x " style="left:810px;top:452.91px;width:48px;height:15.00px;line-height:15.0px;text-align:center;">23,8%</div>
<div class="x " style="left:859px;top:452.91px;width:47px;height:15.00px;line-height:15.0px;text-align:center;">23,0%</div>
<div class="x " style="left:907px;top:452.91px;width:48px;height:15.00px;line-height:15.0px;text-align:center;">44,1%</div>
<div class="x " style="left:956px;top:452.91px;width:48px;height:15.00px;line-height:15.0px;text-align:center;">47,5%</div>
<div class="x " style="left:1005px;top:452.91px;width:47px;height:15.00px;line-height:15.0px;text-align:center;">49,6%</div>
<div class="x bd" style="left:27px;top:472.87px;width:119px;height:15.00px;line-height:15.0px;text-align:left;padding-left:2.2px;">Полтавська</div>
<div class="b" style="left:146px;top:469px;width:102px;height:21px;background:#f3f371"></div>
<div class="x " style="left:248px;top:472.87px;width:111px;height:15.00px;line-height:15.0px;text-align:center;">895</div>
<div class="x " style="left:360px;top:472.87px;width:54px;height:15.00px;line-height:15.0px;text-align:center;">13,3%</div>
<div class="x " style="left:415px;top:472.87px;width:54px;height:15.00px;line-height:15.0px;text-align:center;">14,1%</div>
<div class="x " style="left:470px;top:472.87px;width:54px;height:15.00px;line-height:15.0px;text-align:center;">14,7%</div>
<div class="b" style="left:524px;top:469px;width:41px;height:21px;background:#d9ead3"></div>
<div class="x g" style="left:525px;top:472.87px;width:39px;height:15.00px;line-height:15.0px;text-align:center;">3 593</div>
<div class="b" style="left:564px;top:469px;width:42px;height:21px;background:#d9ead3"></div>
<div class="x g" style="left:565px;top:472.87px;width:40px;height:15.00px;line-height:15.0px;text-align:center;">3 485</div>
<div class="b" style="left:605px;top:469px;width:41px;height:21px;background:#d9ead3"></div>
<div class="x g" style="left:606px;top:472.87px;width:39px;height:15.00px;line-height:15.0px;text-align:center;">3 473</div>
<div class="x " style="left:646px;top:472.87px;width:38px;height:15.00px;line-height:15.0px;text-align:center;">50,7</div>
<div class="x " style="left:685px;top:472.87px;width:38px;height:15.00px;line-height:15.0px;text-align:center;">50,7</div>
<div class="x " style="left:724px;top:472.87px;width:37px;height:15.00px;line-height:15.0px;text-align:center;">51,3</div>
<div class="x " style="left:762px;top:472.87px;width:47px;height:15.00px;line-height:15.0px;text-align:center;">37,5%</div>
<div class="x " style="left:810px;top:472.87px;width:48px;height:15.00px;line-height:15.0px;text-align:center;">31,3%</div>
<div class="x " style="left:859px;top:472.87px;width:47px;height:15.00px;line-height:15.0px;text-align:center;">27,3%</div>
<div class="x " style="left:907px;top:472.87px;width:48px;height:15.00px;line-height:15.0px;text-align:center;">25,5%</div>
<div class="x " style="left:956px;top:472.87px;width:48px;height:15.00px;line-height:15.0px;text-align:center;">26,6%</div>
<div class="x " style="left:1005px;top:472.87px;width:47px;height:15.00px;line-height:15.0px;text-align:center;">28,8%</div>
<div class="x bd" style="left:27px;top:492.83px;width:119px;height:15.00px;line-height:15.0px;text-align:left;padding-left:2.2px;">Рівненська</div>
<div class="b" style="left:146px;top:489px;width:102px;height:21px;background:#e06666"></div>
<div class="x " style="left:248px;top:492.83px;width:111px;height:15.00px;line-height:15.0px;text-align:center;">1 923</div>
<div class="b" style="left:359px;top:489px;width:56px;height:21px;background:#f4cccc"></div>
<div class="x r" style="left:360px;top:492.83px;width:54px;height:15.00px;line-height:15.0px;text-align:center;">41,4%</div>
<div class="b" style="left:414px;top:489px;width:56px;height:21px;background:#f4cccc"></div>
<div class="x r" style="left:415px;top:492.83px;width:54px;height:15.00px;line-height:15.0px;text-align:center;">42,3%</div>
<div class="b" style="left:469px;top:489px;width:56px;height:21px;background:#f4cccc"></div>
<div class="x r" style="left:470px;top:492.83px;width:54px;height:15.00px;line-height:15.0px;text-align:center;">44,5%</div>
<div class="b" style="left:524px;top:489px;width:41px;height:21px;background:#d9ead3"></div>
<div class="x g" style="left:525px;top:492.83px;width:39px;height:15.00px;line-height:15.0px;text-align:center;">2 462</div>
<div class="b" style="left:564px;top:489px;width:42px;height:21px;background:#d9ead3"></div>
<div class="x g" style="left:565px;top:492.83px;width:40px;height:15.00px;line-height:15.0px;text-align:center;">2 477</div>
<div class="b" style="left:605px;top:489px;width:41px;height:21px;background:#d9ead3"></div>
<div class="x g" style="left:606px;top:492.83px;width:39px;height:15.00px;line-height:15.0px;text-align:center;">2 426</div>
<div class="b" style="left:645px;top:489px;width:40px;height:21px;background:#f4cccc"></div>
<div class="x r" style="left:646px;top:492.83px;width:38px;height:15.00px;line-height:15.0px;text-align:center;">81,8</div>
<div class="b" style="left:684px;top:489px;width:40px;height:21px;background:#f4cccc"></div>
<div class="x r" style="left:685px;top:492.83px;width:38px;height:15.00px;line-height:15.0px;text-align:center;">81,9</div>
<div class="b" style="left:723px;top:489px;width:39px;height:21px;background:#f4cccc"></div>
<div class="x r" style="left:724px;top:492.83px;width:37px;height:15.00px;line-height:15.0px;text-align:center;">80,3</div>
<div class="x " style="left:762px;top:492.83px;width:47px;height:15.00px;line-height:15.0px;text-align:center;">16,4%</div>
<div class="x " style="left:810px;top:492.83px;width:48px;height:15.00px;line-height:15.0px;text-align:center;">14,6%</div>
<div class="x " style="left:859px;top:492.83px;width:47px;height:15.00px;line-height:15.0px;text-align:center;">11,4%</div>
<div class="x " style="left:907px;top:492.83px;width:48px;height:15.00px;line-height:15.0px;text-align:center;">49,1%</div>
<div class="x " style="left:956px;top:492.83px;width:48px;height:15.00px;line-height:15.0px;text-align:center;">51,4%</div>
<div class="x " style="left:1005px;top:492.83px;width:47px;height:15.00px;line-height:15.0px;text-align:center;">52,7%</div>
<div class="x bd" style="left:27px;top:512.79px;width:119px;height:15.00px;line-height:15.0px;text-align:left;padding-left:2.2px;">Сумська</div>
<div class="b" style="left:146px;top:509px;width:102px;height:21px;background:#f6b26b"></div>
<div class="x " style="left:248px;top:512.79px;width:111px;height:15.00px;line-height:15.0px;text-align:center;">2 045</div>
<div class="b" style="left:359px;top:509px;width:56px;height:21px;background:#f4cccc"></div>
<div class="x r" style="left:360px;top:512.79px;width:54px;height:15.00px;line-height:15.0px;text-align:center;">45,8%</div>
<div class="b" style="left:414px;top:509px;width:56px;height:21px;background:#f4cccc"></div>
<div class="x r" style="left:415px;top:512.79px;width:54px;height:15.00px;line-height:15.0px;text-align:center;">45,5%</div>
<div class="b" style="left:469px;top:509px;width:56px;height:21px;background:#f4cccc"></div>
<div class="x r" style="left:470px;top:512.79px;width:54px;height:15.00px;line-height:15.0px;text-align:center;">45,6%</div>
<div class="b" style="left:524px;top:509px;width:41px;height:21px;background:#d9ead3"></div>
<div class="x g" style="left:525px;top:512.79px;width:39px;height:15.00px;line-height:15.0px;text-align:center;">2 320</div>
<div class="b" style="left:564px;top:509px;width:42px;height:21px;background:#d9ead3"></div>
<div class="x g" style="left:565px;top:512.79px;width:40px;height:15.00px;line-height:15.0px;text-align:center;">2 271</div>
<div class="b" style="left:605px;top:509px;width:41px;height:21px;background:#d9ead3"></div>
<div class="x g" style="left:606px;top:512.79px;width:39px;height:15.00px;line-height:15.0px;text-align:center;">2 315</div>
<div class="b" style="left:645px;top:509px;width:40px;height:21px;background:#f4cccc"></div>
<div class="x r" style="left:646px;top:512.79px;width:38px;height:15.00px;line-height:15.0px;text-align:center;">80,1</div>
<div class="b" style="left:684px;top:509px;width:40px;height:21px;background:#f4cccc"></div>
<div class="x r" style="left:685px;top:512.79px;width:38px;height:15.00px;line-height:15.0px;text-align:center;">79,1</div>
<div class="b" style="left:723px;top:509px;width:39px;height:21px;background:#f4cccc"></div>
<div class="x r" style="left:724px;top:512.79px;width:37px;height:15.00px;line-height:15.0px;text-align:center;">79,0</div>
<div class="x " style="left:762px;top:512.79px;width:47px;height:15.00px;line-height:15.0px;text-align:center;">13,3%</div>
<div class="x " style="left:810px;top:512.79px;width:48px;height:15.00px;line-height:15.0px;text-align:center;">13,0%</div>
<div class="x " style="left:859px;top:512.79px;width:47px;height:15.00px;line-height:15.0px;text-align:center;">11,1%</div>
<div class="x " style="left:907px;top:512.79px;width:48px;height:15.00px;line-height:15.0px;text-align:center;">47,0%</div>
<div class="x " style="left:956px;top:512.79px;width:48px;height:15.00px;line-height:15.0px;text-align:center;">48,5%</div>
<div class="x " style="left:1005px;top:512.79px;width:47px;height:15.00px;line-height:15.0px;text-align:center;">50,8%</div>
<div class="x bd" style="left:27px;top:532.75px;width:119px;height:15.00px;line-height:15.0px;text-align:left;padding-left:2.2px;">Тернопільська</div>
<div class="b" style="left:146px;top:529px;width:102px;height:21px;background:#f6b26b"></div>
<div class="x " style="left:248px;top:532.75px;width:111px;height:15.00px;line-height:15.0px;text-align:center;">1 795</div>
<div class="b" style="left:359px;top:529px;width:56px;height:21px;background:#f4cccc"></div>
<div class="x r" style="left:360px;top:532.75px;width:54px;height:15.00px;line-height:15.0px;text-align:center;">35,2%</div>
<div class="b" style="left:414px;top:529px;width:56px;height:21px;background:#f4cccc"></div>
<div class="x r" style="left:415px;top:532.75px;width:54px;height:15.00px;line-height:15.0px;text-align:center;">35,1%</div>
<div class="b" style="left:469px;top:529px;width:56px;height:21px;background:#f4cccc"></div>
<div class="x r" style="left:470px;top:532.75px;width:54px;height:15.00px;line-height:15.0px;text-align:center;">35,8%</div>
<div class="b" style="left:524px;top:529px;width:41px;height:21px;background:#d9ead3"></div>
<div class="x g" style="left:525px;top:532.75px;width:39px;height:15.00px;line-height:15.0px;text-align:center;">2 688</div>
<div class="b" style="left:564px;top:529px;width:42px;height:21px;background:#d9ead3"></div>
<div class="x g" style="left:565px;top:532.75px;width:40px;height:15.00px;line-height:15.0px;text-align:center;">2 631</div>
<div class="b" style="left:605px;top:529px;width:41px;height:21px;background:#d9ead3"></div>
<div class="x g" style="left:606px;top:532.75px;width:39px;height:15.00px;line-height:15.0px;text-align:center;">2 572</div>
<div class="x " style="left:646px;top:532.75px;width:38px;height:15.00px;line-height:15.0px;text-align:center;">58,5</div>
<div class="x " style="left:685px;top:532.75px;width:38px;height:15.00px;line-height:15.0px;text-align:center;">59,5</div>
<div class="x " style="left:724px;top:532.75px;width:37px;height:15.00px;line-height:15.0px;text-align:center;">59,2</div>
<div class="x " style="left:762px;top:532.75px;width:47px;height:15.00px;line-height:15.0px;text-align:center;">8,0%</div>
<div class="x " style="left:810px;top:532.75px;width:48px;height:15.00px;line-height:15.0px;text-align:center;">22,5%</div>
<div class="x " style="left:859px;top:532.75px;width:47px;height:15.00px;line-height:15.0px;text-align:center;">21,6%</div>
<div class="x " style="left:907px;top:532.75px;width:48px;height:15.00px;line-height:15.0px;text-align:center;">53,5%</div>
<div class="x " style="left:956px;top:532.75px;width:48px;height:15.00px;line-height:15.0px;text-align:center;">54,2%</div>
<div class="x " style="left:1005px;top:532.75px;width:47px;height:15.00px;line-height:15.0px;text-align:center;">50,3%</div>
<div class="x bd" style="left:27px;top:552.71px;width:119px;height:15.00px;line-height:15.0px;text-align:left;padding-left:2.2px;">Харківська</div>
<div class="b" style="left:146px;top:549px;width:102px;height:21px;background:#f6b26b"></div>
<div class="x " style="left:248px;top:552.71px;width:111px;height:15.00px;line-height:15.0px;text-align:center;">909</div>
<div class="x " style="left:360px;top:552.71px;width:54px;height:15.00px;line-height:15.0px;text-align:center;">19,9%</div>
<div class="x " style="left:415px;top:552.71px;width:54px;height:15.00px;line-height:15.0px;text-align:center;">19,4%</div>
<div class="x " style="left:470px;top:552.71px;width:54px;height:15.00px;line-height:15.0px;text-align:center;">18,8%</div>
<div class="b" style="left:524px;top:549px;width:41px;height:21px;background:#d9ead3"></div>
<div class="x g" style="left:525px;top:552.71px;width:39px;height:15.00px;line-height:15.0px;text-align:center;">2 463</div>
<div class="b" style="left:564px;top:549px;width:42px;height:21px;background:#d9ead3"></div>
<div class="x g" style="left:565px;top:552.71px;width:40px;height:15.00px;line-height:15.0px;text-align:center;">2 595</div>
<div class="b" style="left:605px;top:549px;width:41px;height:21px;background:#d9ead3"></div>
<div class="x g" style="left:606px;top:552.71px;width:39px;height:15.00px;line-height:15.0px;text-align:center;">2 690</div>
<div class="b" style="left:645px;top:549px;width:40px;height:21px;background:#f4cccc"></div>
<div class="x r" style="left:646px;top:552.71px;width:38px;height:15.00px;line-height:15.0px;text-align:center;">67,8</div>
<div class="b" style="left:684px;top:549px;width:40px;height:21px;background:#f4cccc"></div>
<div class="x r" style="left:685px;top:552.71px;width:38px;height:15.00px;line-height:15.0px;text-align:center;">68,4</div>
<div class="b" style="left:723px;top:549px;width:39px;height:21px;background:#f4cccc"></div>
<div class="x r" style="left:724px;top:552.71px;width:37px;height:15.00px;line-height:15.0px;text-align:center;">67,7</div>
<div class="x " style="left:762px;top:552.71px;width:47px;height:15.00px;line-height:15.0px;text-align:center;">15,6%</div>
<div class="x " style="left:810px;top:552.71px;width:48px;height:15.00px;line-height:15.0px;text-align:center;">14,7%</div>
<div class="x " style="left:859px;top:552.71px;width:47px;height:15.00px;line-height:15.0px;text-align:center;">12,4%</div>
<div class="x " style="left:907px;top:552.71px;width:48px;height:15.00px;line-height:15.0px;text-align:center;">39,9%</div>
<div class="x " style="left:956px;top:552.71px;width:48px;height:15.00px;line-height:15.0px;text-align:center;">40,9%</div>
<div class="x " style="left:1005px;top:552.71px;width:47px;height:15.00px;line-height:15.0px;text-align:center;">41,8%</div>
<div class="x bd" style="left:27px;top:572.67px;width:119px;height:15.00px;line-height:15.0px;text-align:left;padding-left:2.2px;">Херсонська</div>
<div class="b" style="left:146px;top:569px;width:102px;height:20px;background:#f6b26b"></div>
<div class="x " style="left:248px;top:572.67px;width:111px;height:15.00px;line-height:15.0px;text-align:center;">1 026</div>
<div class="b" style="left:359px;top:569px;width:56px;height:20px;background:#f4cccc"></div>
<div class="x r" style="left:360px;top:572.67px;width:54px;height:15.00px;line-height:15.0px;text-align:center;">27,3%</div>
<div class="b" style="left:414px;top:569px;width:56px;height:20px;background:#f4cccc"></div>
<div class="x r" style="left:415px;top:572.67px;width:54px;height:15.00px;line-height:15.0px;text-align:center;">27,3%</div>
<div class="b" style="left:469px;top:569px;width:56px;height:20px;background:#f4cccc"></div>
<div class="x r" style="left:470px;top:572.67px;width:54px;height:15.00px;line-height:15.0px;text-align:center;">28,4%</div>
<div class="b" style="left:524px;top:569px;width:41px;height:20px;background:#d9ead3"></div>
<div class="x g" style="left:525px;top:572.67px;width:39px;height:15.00px;line-height:15.0px;text-align:center;">2 013</div>
<div class="b" style="left:564px;top:569px;width:42px;height:20px;background:#d9ead3"></div>
<div class="x g" style="left:565px;top:572.67px;width:40px;height:15.00px;line-height:15.0px;text-align:center;">2 103</div>
<div class="b" style="left:605px;top:569px;width:41px;height:20px;background:#d9ead3"></div>
<div class="x g" style="left:606px;top:572.67px;width:39px;height:15.00px;line-height:15.0px;text-align:center;">2 198</div>
<div class="x " style="left:646px;top:572.67px;width:38px;height:15.00px;line-height:15.0px;text-align:center;">49,9</div>
<div class="x " style="left:685px;top:572.67px;width:38px;height:15.00px;line-height:15.0px;text-align:center;">51,0</div>
<div class="x " style="left:724px;top:572.67px;width:37px;height:15.00px;line-height:15.0px;text-align:center;">52,8</div>
<div class="x " style="left:762px;top:572.67px;width:47px;height:15.00px;line-height:15.0px;text-align:center;">37,4%</div>
<div class="x " style="left:810px;top:572.67px;width:48px;height:15.00px;line-height:15.0px;text-align:center;">37,4%</div>
<div class="x " style="left:859px;top:572.67px;width:47px;height:15.00px;line-height:15.0px;text-align:center;">40,2%</div>
<div class="x " style="left:907px;top:572.67px;width:48px;height:15.00px;line-height:15.0px;text-align:center;">22,9%</div>
<div class="x " style="left:956px;top:572.67px;width:48px;height:15.00px;line-height:15.0px;text-align:center;">23,7%</div>
<div class="x " style="left:1005px;top:572.67px;width:47px;height:15.00px;line-height:15.0px;text-align:center;">25,3%</div>
<div class="x bd" style="left:27px;top:592.63px;width:119px;height:15.00px;line-height:15.0px;text-align:left;padding-left:2.2px;">Хмельницька</div>
<div class="b" style="left:146px;top:588px;width:102px;height:21px;background:#f6b26b"></div>
<div class="x " style="left:248px;top:592.63px;width:111px;height:15.00px;line-height:15.0px;text-align:center;">2 038</div>
<div class="b" style="left:359px;top:588px;width:56px;height:21px;background:#f4cccc"></div>
<div class="x r" style="left:360px;top:592.63px;width:54px;height:15.00px;line-height:15.0px;text-align:center;">34,4%</div>
<div class="b" style="left:414px;top:588px;width:56px;height:21px;background:#f4cccc"></div>
<div class="x r" style="left:415px;top:592.63px;width:54px;height:15.00px;line-height:15.0px;text-align:center;">33,7%</div>
<div class="b" style="left:469px;top:588px;width:56px;height:21px;background:#f4cccc"></div>
<div class="x r" style="left:470px;top:592.63px;width:54px;height:15.00px;line-height:15.0px;text-align:center;">38,0%</div>
<div class="b" style="left:524px;top:588px;width:41px;height:21px;background:#d9ead3"></div>
<div class="x g" style="left:525px;top:592.63px;width:39px;height:15.00px;line-height:15.0px;text-align:center;">3 198</div>
<div class="b" style="left:564px;top:588px;width:42px;height:21px;background:#d9ead3"></div>
<div class="x g" style="left:565px;top:592.63px;width:40px;height:15.00px;line-height:15.0px;text-align:center;">3 174</div>
<div class="b" style="left:605px;top:588px;width:41px;height:21px;background:#d9ead3"></div>
<div class="x g" style="left:606px;top:592.63px;width:39px;height:15.00px;line-height:15.0px;text-align:center;">2 849</div>
<div class="b" style="left:645px;top:588px;width:40px;height:21px;background:#f4cccc"></div>
<div class="x r" style="left:646px;top:592.63px;width:38px;height:15.00px;line-height:15.0px;text-align:center;">97,2</div>
<div class="b" style="left:684px;top:588px;width:40px;height:21px;background:#f4cccc"></div>
<div class="x r" style="left:685px;top:592.63px;width:38px;height:15.00px;line-height:15.0px;text-align:center;">101,6</div>
<div class="b" style="left:723px;top:588px;width:39px;height:21px;background:#f4cccc"></div>
<div class="x r" style="left:724px;top:592.63px;width:37px;height:15.00px;line-height:15.0px;text-align:center;">100,9</div>
<div class="x " style="left:762px;top:592.63px;width:47px;height:15.00px;line-height:15.0px;text-align:center;">35,4%</div>
<div class="x " style="left:810px;top:592.63px;width:48px;height:15.00px;line-height:15.0px;text-align:center;">37,0%</div>
<div class="x " style="left:859px;top:592.63px;width:47px;height:15.00px;line-height:15.0px;text-align:center;">28,6%</div>
<div class="x " style="left:907px;top:592.63px;width:48px;height:15.00px;line-height:15.0px;text-align:center;">46,2%</div>
<div class="x " style="left:956px;top:592.63px;width:48px;height:15.00px;line-height:15.0px;text-align:center;">48,9%</div>
<div class="x " style="left:1005px;top:592.63px;width:47px;height:15.00px;line-height:15.0px;text-align:center;">50,7%</div>
<div class="x bd" style="left:27px;top:612.59px;width:119px;height:15.00px;line-height:15.0px;text-align:left;padding-left:2.2px;">Черкаська</div>
<div class="b" style="left:146px;top:608px;width:102px;height:21px;background:#f6b26b"></div>
<div class="x " style="left:248px;top:612.59px;width:111px;height:15.00px;line-height:15.0px;text-align:center;">999</div>
<div class="b" style="left:359px;top:608px;width:56px;height:21px;background:#f4cccc"></div>
<div class="x r" style="left:360px;top:612.59px;width:54px;height:15.00px;line-height:15.0px;text-align:center;">26,3%</div>
<div class="b" style="left:414px;top:608px;width:56px;height:21px;background:#f4cccc"></div>
<div class="x r" style="left:415px;top:612.59px;width:54px;height:15.00px;line-height:15.0px;text-align:center;">26,4%</div>
<div class="b" style="left:469px;top:608px;width:56px;height:21px;background:#f4cccc"></div>
<div class="x r" style="left:470px;top:612.59px;width:54px;height:15.00px;line-height:15.0px;text-align:center;">25,5%</div>
<div class="b" style="left:524px;top:608px;width:41px;height:21px;background:#d9ead3"></div>
<div class="x g" style="left:525px;top:612.59px;width:39px;height:15.00px;line-height:15.0px;text-align:center;">2 020</div>
<div class="b" style="left:564px;top:608px;width:42px;height:21px;background:#d9ead3"></div>
<div class="x g" style="left:565px;top:612.59px;width:40px;height:15.00px;line-height:15.0px;text-align:center;">2 092</div>
<div class="b" style="left:605px;top:608px;width:41px;height:21px;background:#d9ead3"></div>
<div class="x g" style="left:606px;top:612.59px;width:39px;height:15.00px;line-height:15.0px;text-align:center;">2 214</div>
<div class="x " style="left:646px;top:612.59px;width:38px;height:15.00px;line-height:15.0px;text-align:center;">47,0</div>
<div class="x " style="left:685px;top:612.59px;width:38px;height:15.00px;line-height:15.0px;text-align:center;">49,5</div>
<div class="x " style="left:724px;top:612.59px;width:37px;height:15.00px;line-height:15.0px;text-align:center;">50,5</div>
<div class="b" style="left:761px;top:608px;width:49px;height:21px;background:#f4cccc"></div>
<div class="x r" style="left:762px;top:612.59px;width:47px;height:15.00px;line-height:15.0px;text-align:center;">51,2%</div>
<div class="x " style="left:810px;top:612.59px;width:48px;height:15.00px;line-height:15.0px;text-align:center;">49,0%</div>
<div class="x " style="left:859px;top:612.59px;width:47px;height:15.00px;line-height:15.0px;text-align:center;">43,6%</div>
<div class="x " style="left:907px;top:612.59px;width:48px;height:15.00px;line-height:15.0px;text-align:center;">36,9%</div>
<div class="x " style="left:956px;top:612.59px;width:48px;height:15.00px;line-height:15.0px;text-align:center;">38,6%</div>
<div class="x " style="left:1005px;top:612.59px;width:47px;height:15.00px;line-height:15.0px;text-align:center;">40,1%</div>
<div class="x bd" style="left:27px;top:632.55px;width:119px;height:15.00px;line-height:15.0px;text-align:left;padding-left:2.2px;">Чернівецька</div>
<div class="b" style="left:146px;top:628px;width:102px;height:21px;background:#f6b26b"></div>
<div class="x " style="left:248px;top:632.55px;width:111px;height:15.00px;line-height:15.0px;text-align:center;">1 501</div>
<div class="x " style="left:360px;top:632.55px;width:54px;height:15.00px;line-height:15.0px;text-align:center;">19,2%</div>
<div class="x " style="left:415px;top:632.55px;width:54px;height:15.00px;line-height:15.0px;text-align:center;">19,2%</div>
<div class="x " style="left:470px;top:632.55px;width:54px;height:15.00px;line-height:15.0px;text-align:center;">19,2%</div>
<div class="b" style="left:524px;top:628px;width:41px;height:21px;background:#d9ead3"></div>
<div class="x g" style="left:525px;top:632.55px;width:39px;height:15.00px;line-height:15.0px;text-align:center;">3 791</div>
<div class="b" style="left:564px;top:628px;width:42px;height:21px;background:#d9ead3"></div>
<div class="x g" style="left:565px;top:632.55px;width:40px;height:15.00px;line-height:15.0px;text-align:center;">3 725</div>
<div class="b" style="left:605px;top:628px;width:41px;height:21px;background:#d9ead3"></div>
<div class="x g" style="left:606px;top:632.55px;width:39px;height:15.00px;line-height:15.0px;text-align:center;">3 696</div>
<div class="b" style="left:645px;top:628px;width:40px;height:21px;background:#f4cccc"></div>
<div class="x r" style="left:646px;top:632.55px;width:38px;height:15.00px;line-height:15.0px;text-align:center;">89,1</div>
<div class="b" style="left:684px;top:628px;width:40px;height:21px;background:#f4cccc"></div>
<div class="x r" style="left:685px;top:632.55px;width:38px;height:15.00px;line-height:15.0px;text-align:center;">87,9</div>
<div class="b" style="left:723px;top:628px;width:39px;height:21px;background:#f4cccc"></div>
<div class="x r" style="left:724px;top:632.55px;width:37px;height:15.00px;line-height:15.0px;text-align:center;">86,7</div>
<div class="x " style="left:762px;top:632.55px;width:47px;height:15.00px;line-height:15.0px;text-align:center;">5,8%</div>
<div class="x " style="left:810px;top:632.55px;width:48px;height:15.00px;line-height:15.0px;text-align:center;">0,6%</div>
<div class="x " style="left:859px;top:632.55px;width:47px;height:15.00px;line-height:15.0px;text-align:center;">-0,6%</div>
<div class="x " style="left:907px;top:632.55px;width:48px;height:15.00px;line-height:15.0px;text-align:center;">46,6%</div>
<div class="x " style="left:956px;top:632.55px;width:48px;height:15.00px;line-height:15.0px;text-align:center;">47,8%</div>
<div class="x " style="left:1005px;top:632.55px;width:47px;height:15.00px;line-height:15.0px;text-align:center;">49,1%</div>
<div class="x bd" style="left:27px;top:652.51px;width:119px;height:15.00px;line-height:15.0px;text-align:left;padding-left:2.2px;">Чернігівська</div>
<div class="b" style="left:146px;top:648px;width:102px;height:21px;background:#f6b26b"></div>
<div class="x " style="left:248px;top:652.51px;width:111px;height:15.00px;line-height:15.0px;text-align:center;">1 204</div>
<div class="b" style="left:359px;top:648px;width:56px;height:21px;background:#f4cccc"></div>
<div class="x r" style="left:360px;top:652.51px;width:54px;height:15.00px;line-height:15.0px;text-align:center;">42,6%</div>
<div class="b" style="left:414px;top:648px;width:56px;height:21px;background:#f4cccc"></div>
<div class="x r" style="left:415px;top:652.51px;width:54px;height:15.00px;line-height:15.0px;text-align:center;">40,4%</div>
<div class="b" style="left:469px;top:648px;width:56px;height:21px;background:#f4cccc"></div>
<div class="x r" style="left:470px;top:652.51px;width:54px;height:15.00px;line-height:15.0px;text-align:center;">38,3%</div>
<div class="b" style="left:524px;top:648px;width:41px;height:21px;background:#d9ead3"></div>
<div class="x g" style="left:525px;top:652.51px;width:39px;height:15.00px;line-height:15.0px;text-align:center;">1 537</div>
<div class="b" style="left:564px;top:648px;width:42px;height:21px;background:#d9ead3"></div>
<div class="x g" style="left:565px;top:652.51px;width:40px;height:15.00px;line-height:15.0px;text-align:center;">1 676</div>
<div class="b" style="left:605px;top:648px;width:41px;height:21px;background:#d9ead3"></div>
<div class="x g" style="left:606px;top:652.51px;width:39px;height:15.00px;line-height:15.0px;text-align:center;">1 794</div>
<div class="b" style="left:645px;top:648px;width:40px;height:21px;background:#f4cccc"></div>
<div class="x r" style="left:646px;top:652.51px;width:38px;height:15.00px;line-height:15.0px;text-align:center;">72,8</div>
<div class="b" style="left:684px;top:648px;width:40px;height:21px;background:#f4cccc"></div>
<div class="x r" style="left:685px;top:652.51px;width:38px;height:15.00px;line-height:15.0px;text-align:center;">74,1</div>
<div class="b" style="left:723px;top:648px;width:39px;height:21px;background:#f4cccc"></div>
<div class="x r" style="left:724px;top:652.51px;width:37px;height:15.00px;line-height:15.0px;text-align:center;">74,6</div>
<div class="x " style="left:762px;top:652.51px;width:47px;height:15.00px;line-height:15.0px;text-align:center;">41,6%</div>
<div class="x " style="left:810px;top:652.51px;width:48px;height:15.00px;line-height:15.0px;text-align:center;">37,1%</div>
<div class="x " style="left:859px;top:652.51px;width:47px;height:15.00px;line-height:15.0px;text-align:center;">37,3%</div>
<div class="x " style="left:907px;top:652.51px;width:48px;height:15.00px;line-height:15.0px;text-align:center;">32,1%</div>
<div class="x " style="left:956px;top:652.51px;width:48px;height:15.00px;line-height:15.0px;text-align:center;">33,7%</div>
<div class="x " style="left:1005px;top:652.51px;width:47px;height:15.00px;line-height:15.0px;text-align:center;">33,5%</div>
<div class="x bd" style="left:27px;top:673.17px;width:119px;height:15.00px;line-height:15.0px;text-align:left;padding-left:2.2px;">АР Крим</div>
<div class="x " style="left:147px;top:673.17px;width:905px;height:15.00px;line-height:15.0px;text-align:center;">відсутні дані</div>
<div class="x bd" style="left:27px;top:693.13px;width:119px;height:15.00px;line-height:15.0px;text-align:left;padding-left:2.2px;">Севастополь</div>
<div class="x " style="left:147px;top:693.13px;width:905px;height:15.00px;line-height:15.0px;text-align:center;">відсутні дані</div>
<div class="x bd" style="left:25px;top:74.00px;width:121px;height:15.00px;line-height:15.0px;text-align:center;">Регіон</div>
<div class="x bd" style="left:147px;top:66.90px;width:100px;height:30.00px;line-height:15.0px;text-align:center;">Рівень<br>епіднебезпеки</div>
<div class="x bd" style="left:248px;top:66.90px;width:111px;height:30.00px;line-height:15.0px;text-align:center;">Рівень<br>захворюваності</div>
<div class="x bd" style="left:360px;top:66.90px;width:164px;height:30.00px;line-height:15.0px;text-align:center;">Коефіцієнт виявлення<br>випадків інфікування</div>
<div class="x bd" style="left:525px;top:66.90px;width:120px;height:30.00px;line-height:15.0px;text-align:center;">Охоплення<br>тестуванням</div>
<div class="x bd" style="left:646px;top:66.90px;width:115px;height:30.00px;line-height:15.0px;text-align:center;">Рівень<br>госпіталізацій</div>
<div class="x bd" style="left:762px;top:66.90px;width:144px;height:30.00px;line-height:15.0px;text-align:center;">Динаміка рівня<br>госпіталізацій</div>
<div class="x bd" style="left:907px;top:66.90px;width:145px;height:30.00px;line-height:15.0px;text-align:center;">Завантаженість ліжок<br>з киснем</div>
<div class="x bd" style="left:25px;top:97.80px;width:121px;height:32.00px;line-height:16.0px;text-align:center;">Цільовий<br>показник</div>
<div class="x bd" style="left:248px;top:97.80px;width:111px;height:32.00px;line-height:16.0px;text-align:center;">&lt;75 на 100 тис.<br>нас.</div>
<div class="x bd" style="left:360px;top:105.90px;width:164px;height:15.00px;line-height:15.0px;text-align:center;"><u>&lt;</u>20% / &lt;4%</div>
<div class="x bd" style="left:525px;top:97.80px;width:120px;height:32.00px;line-height:16.0px;text-align:center;"><u>&gt;</u>300 на 100 тис.<br>нас.</div>
<div class="x bd" style="left:646px;top:97.80px;width:115px;height:32.00px;line-height:16.0px;text-align:center;"><u>&lt;</u>60 на 100 тис.<br>нас.</div>
<div class="x bd" style="left:762px;top:105.90px;width:144px;height:15.00px;line-height:15.0px;text-align:center;"><u>&lt;</u>50%</div>
<div class="x bd" style="left:907px;top:105.90px;width:145px;height:15.00px;line-height:15.0px;text-align:center;"><u>&lt;</u>65%</div>
<div class="x bd" style="left:25px;top:133.80px;width:121px;height:15.00px;line-height:15.0px;text-align:center;">Дата</div>
<div class="x bd" style="left:248px;top:133.80px;width:111px;height:15.00px;line-height:15.0px;text-align:center;">07.02</div>
<div class="x bd" style="left:360px;top:133.80px;width:54px;height:15.00px;line-height:15.0px;text-align:center;">05.02</div>
<div class="x bd" style="left:415px;top:133.80px;width:54px;height:15.00px;line-height:15.0px;text-align:center;">06.02</div>
<div class="x bd" style="left:470px;top:133.80px;width:54px;height:15.00px;line-height:15.0px;text-align:center;">07.02</div>
<div class="x bd" style="left:525px;top:133.80px;width:39px;height:15.00px;line-height:15.0px;text-align:center;">05.02</div>
<div class="x bd" style="left:565px;top:133.80px;width:40px;height:15.00px;line-height:15.0px;text-align:center;">06.02</div>
<div class="x bd" style="left:606px;top:133.80px;width:39px;height:15.00px;line-height:15.0px;text-align:center;">07.02</div>
<div class="x bd" style="left:646px;top:133.80px;width:38px;height:15.00px;line-height:15.0px;text-align:center;">05.02</div>
<div class="x bd" style="left:685px;top:133.80px;width:38px;height:15.00px;line-height:15.0px;text-align:center;">06.02</div>
<div class="x bd" style="left:724px;top:133.80px;width:37px;height:15.00px;line-height:15.0px;text-align:center;">07.02</div>
<div class="x bd" style="left:762px;top:133.80px;width:47px;height:15.00px;line-height:15.0px;text-align:center;">05.02</div>
<div class="x bd" style="left:810px;top:133.80px;width:48px;height:15.00px;line-height:15.0px;text-align:center;">06.02</div>
<div class="x bd" style="left:859px;top:133.80px;width:47px;height:15.00px;line-height:15.0px;text-align:center;">07.02</div>
<div class="x bd" style="left:907px;top:133.80px;width:48px;height:15.00px;line-height:15.0px;text-align:center;">05.02</div>
<div class="x bd" style="left:956px;top:133.80px;width:48px;height:15.00px;line-height:15.0px;text-align:center;">06.02</div>
<div class="x bd" style="left:1005px;top:133.80px;width:47px;height:15.00px;line-height:15.0px;text-align:center;">07.02</div>
<div class="b" style="left:172.20px;top:116px;width:10px;height:16px;background:#93c47d"></div>
<div class="b" style="left:185.05px;top:116px;width:10px;height:16px;background:#f3f371"></div>
<div class="b" style="left:197.90px;top:116px;width:10px;height:16px;background:#f6b26b"></div>
<div class="b" style="left:210.75px;top:116px;width:10px;height:16px;background:#e06666"></div>
<div class="hl" style="left:26px;top:65px;width:1027px"></div>
<div class="hl" style="left:26px;top:97px;width:1027px"></div>
<div class="hl" style="left:247px;top:129px;width:806px"></div>
<div class="hl" style="left:145px;top:129px;width:2px"></div>
<div class="hl" style="left:146px;top:43px;width:102px"></div>
<div class="vl" style="left:146px;top:43px;height:23px"></div>
<div class="vl" style="left:247px;top:43px;height:23px"></div>
<div class="hl" style="left:26px;top:149px;width:121px"></div>
<div class="hl" style="left:146px;top:149px;width:102px"></div>
<div class="hl" style="left:247px;top:149px;width:113px"></div>
<div class="hl" style="left:761px;top:149px;width:49px"></div>
<div class="hl" style="left:809px;top:149px;width:50px"></div>
<div class="hl" style="left:858px;top:149px;width:49px"></div>
<div class="hl" style="left:906px;top:149px;width:50px"></div>
<div class="hl" style="left:955px;top:149px;width:50px"></div>
<div class="hl" style="left:1004px;top:149px;width:49px"></div>
<div class="hl" style="left:26px;top:169px;width:121px"></div>
<div class="hl" style="left:146px;top:169px;width:102px"></div>
<div class="hl" style="left:247px;top:169px;width:113px"></div>
<div class="hl" style="left:359px;top:169px;width:56px"></div>
<div class="hl" style="left:414px;top:169px;width:56px"></div>
<div class="hl" style="left:469px;top:169px;width:56px"></div>
<div class="hl" style="left:645px;top:169px;width:40px"></div>
<div class="hl" style="left:684px;top:169px;width:40px"></div>
<div class="hl" style="left:723px;top:169px;width:39px"></div>
<div class="hl" style="left:906px;top:169px;width:50px"></div>
<div class="hl" style="left:955px;top:169px;width:50px"></div>
<div class="hl" style="left:1004px;top:169px;width:49px"></div>
<div class="hd" style="left:27px;top:188px;width:119px"></div>
<div class="hf" style="left:147px;top:188px;width:100px"></div>
<div class="hd" style="left:248px;top:188px;width:111px"></div>
<div class="hf" style="left:360px;top:188px;width:54px"></div>
<div class="hf" style="left:415px;top:188px;width:54px"></div>
<div class="hf" style="left:470px;top:188px;width:54px"></div>
<div class="hf" style="left:525px;top:188px;width:39px"></div>
<div class="hf" style="left:565px;top:188px;width:40px"></div>
<div class="hf" style="left:606px;top:188px;width:39px"></div>
<div class="hf" style="left:646px;top:188px;width:38px"></div>
<div class="hf" style="left:685px;top:188px;width:38px"></div>
<div class="hf" style="left:724px;top:188px;width:37px"></div>
<div class="hd" style="left:762px;top:188px;width:47px"></div>
<div class="hd" style="left:810px;top:188px;width:48px"></div>
<div class="hd" style="left:859px;top:188px;width:47px"></div>
<div class="hd" style="left:907px;top:188px;width:48px"></div>
<div class="hd" style="left:956px;top:188px;width:48px"></div>
<div class="hd" style="left:1005px;top:188px;width:47px"></div>
<div class="hd" style="left:27px;top:208px;width:119px"></div>
<div class="hf" style="left:147px;top:208px;width:100px"></div>
<div class="hd" style="left:248px;top:208px;width:111px"></div>
<div class="hf" style="left:360px;top:208px;width:54px"></div>
<div class="hf" style="left:415px;top:208px;width:54px"></div>
<div class="hf" style="left:470px;top:208px;width:54px"></div>
<div class="hf" style="left:525px;top:208px;width:39px"></div>
<div class="hf" style="left:565px;top:208px;width:40px"></div>
<div class="hf" style="left:606px;top:208px;width:39px"></div>
<div class="hf" style="left:646px;top:208px;width:38px"></div>
<div class="hf" style="left:685px;top:208px;width:38px"></div>
<div class="hf" style="left:724px;top:208px;width:37px"></div>
<div class="hd" style="left:762px;top:208px;width:47px"></div>
<div class="hd" style="left:810px;top:208px;width:48px"></div>
<div class="hd" style="left:859px;top:208px;width:47px"></div>
<div class="hd" style="left:907px;top:208px;width:48px"></div>
<div class="hd" style="left:956px;top:208px;width:48px"></div>
<div class="hd" style="left:1005px;top:208px;width:47px"></div>
<div class="hd" style="left:27px;top:228px;width:119px"></div>
<div class="hf" style="left:147px;top:228px;width:100px"></div>
<div class="hd" style="left:248px;top:228px;width:111px"></div>
<div class="hd" style="left:360px;top:228px;width:54px"></div>
<div class="hd" style="left:415px;top:228px;width:54px"></div>
<div class="hf" style="left:470px;top:228px;width:54px"></div>
<div class="hf" style="left:525px;top:228px;width:39px"></div>
<div class="hf" style="left:565px;top:228px;width:40px"></div>
<div class="hf" style="left:606px;top:228px;width:39px"></div>
<div class="hd" style="left:646px;top:228px;width:38px"></div>
<div class="hd" style="left:685px;top:228px;width:38px"></div>
<div class="hd" style="left:724px;top:228px;width:37px"></div>
<div class="hd" style="left:762px;top:228px;width:47px"></div>
<div class="hd" style="left:810px;top:228px;width:48px"></div>
<div class="hd" style="left:859px;top:228px;width:47px"></div>
<div class="hd" style="left:907px;top:228px;width:48px"></div>
<div class="hd" style="left:956px;top:228px;width:48px"></div>
<div class="hd" style="left:1005px;top:228px;width:47px"></div>
<div class="hd" style="left:27px;top:248px;width:119px"></div>
<div class="hf" style="left:147px;top:248px;width:100px"></div>
<div class="hd" style="left:248px;top:248px;width:111px"></div>
<div class="hf" style="left:360px;top:248px;width:54px"></div>
<div class="hf" style="left:415px;top:248px;width:54px"></div>
<div class="hf" style="left:470px;top:248px;width:54px"></div>
<div class="hf" style="left:525px;top:248px;width:39px"></div>
<div class="hf" style="left:565px;top:248px;width:40px"></div>
<div class="hf" style="left:606px;top:248px;width:39px"></div>
<div class="hd" style="left:646px;top:248px;width:38px"></div>
<div class="hf" style="left:685px;top:248px;width:38px"></div>
<div class="hf" style="left:724px;top:248px;width:37px"></div>
<div class="hf" style="left:762px;top:248px;width:47px"></div>
<div class="hf" style="left:810px;top:248px;width:48px"></div>
<div class="hf" style="left:859px;top:248px;width:47px"></div>
<div class="hd" style="left:907px;top:248px;width:48px"></div>
<div class="hd" style="left:956px;top:248px;width:48px"></div>
<div class="hd" style="left:1005px;top:248px;width:47px"></div>
<div class="hd" style="left:27px;top:268px;width:119px"></div>
<div class="hf" style="left:147px;top:268px;width:100px"></div>
<div class="hd" style="left:248px;top:268px;width:111px"></div>
<div class="hf" style="left:360px;top:268px;width:54px"></div>
<div class="hf" style="left:415px;top:268px;width:54px"></div>
<div class="hf" style="left:470px;top:268px;width:54px"></div>
<div class="hf" style="left:525px;top:268px;width:39px"></div>
<div class="hf" style="left:565px;top:268px;width:40px"></div>
<div class="hf" style="left:606px;top:268px;width:39px"></div>
<div class="hf" style="left:646px;top:268px;width:38px"></div>
<div class="hf" style="left:685px;top:268px;width:38px"></div>
<div class="hf" style="left:724px;top:268px;width:37px"></div>
<div class="hf" style="left:762px;top:268px;width:47px"></div>
<div class="hf" style="left:810px;top:268px;width:48px"></div>
<div class="hf" style="left:859px;top:268px;width:47px"></div>
<div class="hd" style="left:907px;top:268px;width:48px"></div>
<div class="hd" style="left:956px;top:268px;width:48px"></div>
<div class="hd" style="left:1005px;top:268px;width:47px"></div>
<div class="hd" style="left:27px;top:288px;width:119px"></div>
<div class="hf" style="left:147px;top:288px;width:100px"></div>
<div class="hd" style="left:248px;top:288px;width:111px"></div>
<div class="hf" style="left:360px;top:288px;width:54px"></div>
<div class="hf" style="left:415px;top:288px;width:54px"></div>
<div class="hf" style="left:470px;top:288px;width:54px"></div>
<div class="hf" style="left:525px;top:288px;width:39px"></div>
<div class="hf" style="left:565px;top:288px;width:40px"></div>
<div class="hf" style="left:606px;top:288px;width:39px"></div>
<div class="hf" style="left:646px;top:288px;width:38px"></div>
<div class="hf" style="left:685px;top:288px;width:38px"></div>
<div class="hf" style="left:724px;top:288px;width:37px"></div>
<div class="hd" style="left:762px;top:288px;width:47px"></div>
<div class="hd" style="left:810px;top:288px;width:48px"></div>
<div class="hd" style="left:859px;top:288px;width:47px"></div>
<div class="hd" style="left:907px;top:288px;width:48px"></div>
<div class="hd" style="left:956px;top:288px;width:48px"></div>
<div class="hd" style="left:1005px;top:288px;width:47px"></div>
<div class="hd" style="left:27px;top:308px;width:119px"></div>
<div class="hf" style="left:147px;top:308px;width:100px"></div>
<div class="hd" style="left:248px;top:308px;width:111px"></div>
<div class="hd" style="left:360px;top:308px;width:54px"></div>
<div class="hd" style="left:415px;top:308px;width:54px"></div>
<div class="hd" style="left:470px;top:308px;width:54px"></div>
<div class="hf" style="left:525px;top:308px;width:39px"></div>
<div class="hf" style="left:565px;top:308px;width:40px"></div>
<div class="hf" style="left:606px;top:308px;width:39px"></div>
<div class="hd" style="left:646px;top:308px;width:38px"></div>
<div class="hd" style="left:685px;top:308px;width:38px"></div>
<div class="hd" style="left:724px;top:308px;width:37px"></div>
<div class="hd" style="left:762px;top:308px;width:47px"></div>
<div class="hd" style="left:810px;top:308px;width:48px"></div>
<div class="hd" style="left:859px;top:308px;width:47px"></div>
<div class="hd" style="left:907px;top:308px;width:48px"></div>
<div class="hd" style="left:956px;top:308px;width:48px"></div>
<div class="hd" style="left:1005px;top:308px;width:47px"></div>
<div class="hd" style="left:27px;top:328px;width:119px"></div>
<div class="hf" style="left:147px;top:328px;width:100px"></div>
<div class="hd" style="left:248px;top:328px;width:111px"></div>
<div class="hf" style="left:360px;top:328px;width:54px"></div>
<div class="hf" style="left:415px;top:328px;width:54px"></div>
<div class="hf" style="left:470px;top:328px;width:54px"></div>
<div class="hf" style="left:525px;top:328px;width:39px"></div>
<div class="hf" style="left:565px;top:328px;width:40px"></div>
<div class="hf" style="left:606px;top:328px;width:39px"></div>
<div class="hf" style="left:646px;top:328px;width:38px"></div>
<div class="hf" style="left:685px;top:328px;width:38px"></div>
<div class="hf" style="left:724px;top:328px;width:37px"></div>
<div class="hd" style="left:762px;top:328px;width:47px"></div>
<div class="hd" style="left:810px;top:328px;width:48px"></div>
<div class="hd" style="left:859px;top:328px;width:47px"></div>
<div class="hd" style="left:907px;top:328px;width:48px"></div>
<div class="hd" style="left:956px;top:328px;width:48px"></div>
<div class="hd" style="left:1005px;top:328px;width:47px"></div>
<div class="hd" style="left:27px;top:348px;width:119px"></div>
<div class="hf" style="left:147px;top:348px;width:100px"></div>
<div class="hd" style="left:248px;top:348px;width:111px"></div>
<div class="hf" style="left:360px;top:348px;width:54px"></div>
<div class="hf" style="left:415px;top:348px;width:54px"></div>
<div class="hf" style="left:470px;top:348px;width:54px"></div>
<div class="hf" style="left:525px;top:348px;width:39px"></div>
<div class="hf" style="left:565px;top:348px;width:40px"></div>
<div class="hf" style="left:606px;top:348px;width:39px"></div>
<div class="hd" style="left:646px;top:348px;width:38px"></div>
<div class="hd" style="left:685px;top:348px;width:38px"></div>
<div class="hd" style="left:724px;top:348px;width:37px"></div>
<div class="hd" style="left:762px;top:348px;width:47px"></div>
<div class="hd" style="left:810px;top:348px;width:48px"></div>
<div class="hd" style="left:859px;top:348px;width:47px"></div>
<div class="hd" style="left:907px;top:348px;width:48px"></div>
<div class="hd" style="left:956px;top:348px;width:48px"></div>
<div class="hd" style="left:1005px;top:348px;width:47px"></div>
<div class="hd" style="left:27px;top:368px;width:119px"></div>
<div class="hf" style="left:147px;top:368px;width:100px"></div>
<div class="hd" style="left:248px;top:368px;width:111px"></div>
<div class="hd" style="left:360px;top:368px;width:54px"></div>
<div class="hd" style="left:415px;top:368px;width:54px"></div>
<div class="hd" style="left:470px;top:368px;width:54px"></div>
<div class="hf" style="left:525px;top:368px;width:39px"></div>
<div class="hf" style="left:565px;top:368px;width:40px"></div>
<div class="hf" style="left:606px;top:368px;width:39px"></div>
<div class="hd" style="left:646px;top:368px;width:38px"></div>
<div class="hd" style="left:685px;top:368px;width:38px"></div>
<div class="hd" style="left:724px;top:368px;width:37px"></div>
<div class="hd" style="left:762px;top:368px;width:47px"></div>
<div class="hd" style="left:810px;top:368px;width:48px"></div>
<div class="hd" style="left:859px;top:368px;width:47px"></div>
<div class="hd" style="left:907px;top:368px;width:48px"></div>
<div class="hd" style="left:956px;top:368px;width:48px"></div>
<div class="hd" style="left:1005px;top:368px;width:47px"></div>
<div class="hd" style="left:27px;top:388px;width:119px"></div>
<div class="hf" style="left:147px;top:388px;width:100px"></div>
<div class="hd" style="left:248px;top:388px;width:111px"></div>
<div class="hf" style="left:360px;top:388px;width:54px"></div>
<div class="hf" style="left:415px;top:388px;width:54px"></div>
<div class="hf" style="left:470px;top:388px;width:54px"></div>
<div class="hf" style="left:525px;top:388px;width:39px"></div>
<div class="hf" style="left:565px;top:388px;width:40px"></div>
<div class="hf" style="left:606px;top:388px;width:39px"></div>
<div class="hf" style="left:646px;top:388px;width:38px"></div>
<div class="hf" style="left:685px;top:388px;width:38px"></div>
<div class="hf" style="left:724px;top:388px;width:37px"></div>
<div class="hd" style="left:762px;top:388px;width:47px"></div>
<div class="hd" style="left:810px;top:388px;width:48px"></div>
<div class="hd" style="left:859px;top:388px;width:47px"></div>
<div class="hd" style="left:907px;top:388px;width:48px"></div>
<div class="hd" style="left:956px;top:388px;width:48px"></div>
<div class="hd" style="left:1005px;top:388px;width:47px"></div>
<div class="hd" style="left:27px;top:408px;width:119px"></div>
<div class="hf" style="left:147px;top:408px;width:100px"></div>
<div class="hd" style="left:248px;top:408px;width:111px"></div>
<div class="hf" style="left:360px;top:408px;width:54px"></div>
<div class="hf" style="left:415px;top:408px;width:54px"></div>
<div class="hf" style="left:470px;top:408px;width:54px"></div>
<div class="hf" style="left:525px;top:408px;width:39px"></div>
<div class="hf" style="left:565px;top:408px;width:40px"></div>
<div class="hf" style="left:606px;top:408px;width:39px"></div>
<div class="hf" style="left:646px;top:408px;width:38px"></div>
<div class="hf" style="left:685px;top:408px;width:38px"></div>
<div class="hf" style="left:724px;top:408px;width:37px"></div>
<div class="hd" style="left:762px;top:408px;width:47px"></div>
<div class="hd" style="left:810px;top:408px;width:48px"></div>
<div class="hd" style="left:859px;top:408px;width:47px"></div>
<div class="hd" style="left:907px;top:408px;width:48px"></div>
<div class="hd" style="left:956px;top:408px;width:48px"></div>
<div class="hd" style="left:1005px;top:408px;width:47px"></div>
<div class="hd" style="left:27px;top:428px;width:119px"></div>
<div class="hf" style="left:147px;top:428px;width:100px"></div>
<div class="hd" style="left:248px;top:428px;width:111px"></div>
<div class="hf" style="left:360px;top:428px;width:54px"></div>
<div class="hf" style="left:415px;top:428px;width:54px"></div>
<div class="hf" style="left:470px;top:428px;width:54px"></div>
<div class="hf" style="left:525px;top:428px;width:39px"></div>
<div class="hf" style="left:565px;top:428px;width:40px"></div>
<div class="hf" style="left:606px;top:428px;width:39px"></div>
<div class="hf" style="left:646px;top:428px;width:38px"></div>
<div class="hf" style="left:685px;top:428px;width:38px"></div>
<div class="hf" style="left:724px;top:428px;width:37px"></div>
<div class="hf" style="left:762px;top:428px;width:47px"></div>
<div class="hf" style="left:810px;top:428px;width:48px"></div>
<div class="hf" style="left:859px;top:428px;width:47px"></div>
<div class="hd" style="left:907px;top:428px;width:48px"></div>
<div class="hd" style="left:956px;top:428px;width:48px"></div>
<div class="hd" style="left:1005px;top:428px;width:47px"></div>
<div class="hd" style="left:27px;top:448px;width:119px"></div>
<div class="hf" style="left:147px;top:448px;width:100px"></div>
<div class="hd" style="left:248px;top:448px;width:111px"></div>
<div class="hf" style="left:360px;top:448px;width:54px"></div>
<div class="hf" style="left:415px;top:448px;width:54px"></div>
<div class="hf" style="left:470px;top:448px;width:54px"></div>
<div class="hf" style="left:525px;top:448px;width:39px"></div>
<div class="hf" style="left:565px;top:448px;width:40px"></div>
<div class="hf" style="left:606px;top:448px;width:39px"></div>
<div class="hd" style="left:646px;top:448px;width:38px"></div>
<div class="hf" style="left:685px;top:448px;width:38px"></div>
<div class="hf" style="left:724px;top:448px;width:37px"></div>
<div class="hd" style="left:762px;top:448px;width:47px"></div>
<div class="hd" style="left:810px;top:448px;width:48px"></div>
<div class="hd" style="left:859px;top:448px;width:47px"></div>
<div class="hd" style="left:907px;top:448px;width:48px"></div>
<div class="hd" style="left:956px;top:448px;width:48px"></div>
<div class="hd" style="left:1005px;top:448px;width:47px"></div>
<div class="hd" style="left:27px;top:468px;width:119px"></div>
<div class="hf" style="left:147px;top:468px;width:100px"></div>
<div class="hd" style="left:248px;top:468px;width:111px"></div>
<div class="hd" style="left:360px;top:468px;width:54px"></div>
<div class="hd" style="left:415px;top:468px;width:54px"></div>
<div class="hd" style="left:470px;top:468px;width:54px"></div>
<div class="hf" style="left:525px;top:468px;width:39px"></div>
<div class="hf" style="left:565px;top:468px;width:40px"></div>
<div class="hf" style="left:606px;top:468px;width:39px"></div>
<div class="hd" style="left:646px;top:468px;width:38px"></div>
<div class="hd" style="left:685px;top:468px;width:38px"></div>
<div class="hd" style="left:724px;top:468px;width:37px"></div>
<div class="hd" style="left:762px;top:468px;width:47px"></div>
<div class="hd" style="left:810px;top:468px;width:48px"></div>
<div class="hd" style="left:859px;top:468px;width:47px"></div>
<div class="hd" style="left:907px;top:468px;width:48px"></div>
<div class="hd" style="left:956px;top:468px;width:48px"></div>
<div class="hd" style="left:1005px;top:468px;width:47px"></div>
<div class="hd" style="left:27px;top:488px;width:119px"></div>
<div class="hf" style="left:147px;top:488px;width:100px"></div>
<div class="hd" style="left:248px;top:488px;width:111px"></div>
<div class="hf" style="left:360px;top:488px;width:54px"></div>
<div class="hf" style="left:415px;top:488px;width:54px"></div>
<div class="hf" style="left:470px;top:488px;width:54px"></div>
<div class="hf" style="left:525px;top:488px;width:39px"></div>
<div class="hf" style="left:565px;top:488px;width:40px"></div>
<div class="hf" style="left:606px;top:488px;width:39px"></div>
<div class="hf" style="left:646px;top:488px;width:38px"></div>
<div class="hf" style="left:685px;top:488px;width:38px"></div>
<div class="hf" style="left:724px;top:488px;width:37px"></div>
<div class="hd" style="left:762px;top:488px;width:47px"></div>
<div class="hd" style="left:810px;top:488px;width:48px"></div>
<div class="hd" style="left:859px;top:488px;width:47px"></div>
<div class="hd" style="left:907px;top:488px;width:48px"></div>
<div class="hd" style="left:956px;top:488px;width:48px"></div>
<div class="hd" style="left:1005px;top:488px;width:47px"></div>
<div class="hd" style="left:27px;top:508px;width:119px"></div>
<div class="hf" style="left:147px;top:508px;width:100px"></div>
<div class="hd" style="left:248px;top:508px;width:111px"></div>
<div class="hf" style="left:360px;top:508px;width:54px"></div>
<div class="hf" style="left:415px;top:508px;width:54px"></div>
<div class="hf" style="left:470px;top:508px;width:54px"></div>
<div class="hf" style="left:525px;top:508px;width:39px"></div>
<div class="hf" style="left:565px;top:508px;width:40px"></div>
<div class="hf" style="left:606px;top:508px;width:39px"></div>
<div class="hf" style="left:646px;top:508px;width:38px"></div>
<div class="hf" style="left:685px;top:508px;width:38px"></div>
<div class="hf" style="left:724px;top:508px;width:37px"></div>
<div class="hd" style="left:762px;top:508px;width:47px"></div>
<div class="hd" style="left:810px;top:508px;width:48px"></div>
<div class="hd" style="left:859px;top:508px;width:47px"></div>
<div class="hd" style="left:907px;top:508px;width:48px"></div>
<div class="hd" style="left:956px;top:508px;width:48px"></div>
<div class="hd" style="left:1005px;top:508px;width:47px"></div>
<div class="hd" style="left:27px;top:528px;width:119px"></div>
<div class="hf" style="left:147px;top:528px;width:100px"></div>
<div class="hd" style="left:248px;top:528px;width:111px"></div>
<div class="hf" style="left:360px;top:528px;width:54px"></div>
<div class="hf" style="left:415px;top:528px;width:54px"></div>
<div class="hf" style="left:470px;top:528px;width:54px"></div>
<div class="hf" style="left:525px;top:528px;width:39px"></div>
<div class="hf" style="left:565px;top:528px;width:40px"></div>
<div class="hf" style="left:606px;top:528px;width:39px"></div>
<div class="hd" style="left:646px;top:528px;width:38px"></div>
<div class="hd" style="left:685px;top:528px;width:38px"></div>
<div class="hd" style="left:724px;top:528px;width:37px"></div>
<div class="hd" style="left:762px;top:528px;width:47px"></div>
<div class="hd" style="left:810px;top:528px;width:48px"></div>
<div class="hd" style="left:859px;top:528px;width:47px"></div>
<div class="hd" style="left:907px;top:528px;width:48px"></div>
<div class="hd" style="left:956px;top:528px;width:48px"></div>
<div class="hd" style="left:1005px;top:528px;width:47px"></div>
<div class="hd" style="left:27px;top:548px;width:119px"></div>
<div class="hf" style="left:147px;top:548px;width:100px"></div>
<div class="hd" style="left:248px;top:548px;width:111px"></div>
<div class="hd" style="left:360px;top:548px;width:54px"></div>
<div class="hd" style="left:415px;top:548px;width:54px"></div>
<div class="hd" style="left:470px;top:548px;width:54px"></div>
<div class="hf" style="left:525px;top:548px;width:39px"></div>
<div class="hf" style="left:565px;top:548px;width:40px"></div>
<div class="hf" style="left:606px;top:548px;width:39px"></div>
<div class="hf" style="left:646px;top:548px;width:38px"></div>
<div class="hf" style="left:685px;top:548px;width:38px"></div>
<div class="hf" style="left:724px;top:548px;width:37px"></div>
<div class="hd" style="left:762px;top:548px;width:47px"></div>
<div class="hd" style="left:810px;top:548px;width:48px"></div>
<div class="hd" style="left:859px;top:548px;width:47px"></div>
<div class="hd" style="left:907px;top:548px;width:48px"></div>
<div class="hd" style="left:956px;top:548px;width:48px"></div>
<div class="hd" style="left:1005px;top:548px;width:47px"></div>
<div class="hd" style="left:27px;top:568px;width:119px"></div>
<div class="hf" style="left:147px;top:568px;width:100px"></div>
<div class="hd" style="left:248px;top:568px;width:111px"></div>
<div class="hf" style="left:360px;top:568px;width:54px"></div>
<div class="hf" style="left:415px;top:568px;width:54px"></div>
<div class="hf" style="left:470px;top:568px;width:54px"></div>
<div class="hf" style="left:525px;top:568px;width:39px"></div>
<div class="hf" style="left:565px;top:568px;width:40px"></div>
<div class="hf" style="left:606px;top:568px;width:39px"></div>
<div class="hd" style="left:646px;top:568px;width:38px"></div>
<div class="hd" style="left:685px;top:568px;width:38px"></div>
<div class="hd" style="left:724px;top:568px;width:37px"></div>
<div class="hd" style="left:762px;top:568px;width:47px"></div>
<div class="hd" style="left:810px;top:568px;width:48px"></div>
<div class="hd" style="left:859px;top:568px;width:47px"></div>
<div class="hd" style="left:907px;top:568px;width:48px"></div>
<div class="hd" style="left:956px;top:568px;width:48px"></div>
<div class="hd" style="left:1005px;top:568px;width:47px"></div>
<div class="hd" style="left:27px;top:587px;width:119px"></div>
<div class="hf" style="left:147px;top:587px;width:100px"></div>
<div class="hd" style="left:248px;top:587px;width:111px"></div>
<div class="hf" style="left:360px;top:587px;width:54px"></div>
<div class="hf" style="left:415px;top:587px;width:54px"></div>
<div class="hf" style="left:470px;top:587px;width:54px"></div>
<div class="hf" style="left:525px;top:587px;width:39px"></div>
<div class="hf" style="left:565px;top:587px;width:40px"></div>
<div class="hf" style="left:606px;top:587px;width:39px"></div>
<div class="hf" style="left:646px;top:587px;width:38px"></div>
<div class="hf" style="left:685px;top:587px;width:38px"></div>
<div class="hf" style="left:724px;top:587px;width:37px"></div>
<div class="hd" style="left:762px;top:587px;width:47px"></div>
<div class="hd" style="left:810px;top:587px;width:48px"></div>
<div class="hd" style="left:859px;top:587px;width:47px"></div>
<div class="hd" style="left:907px;top:587px;width:48px"></div>
<div class="hd" style="left:956px;top:587px;width:48px"></div>
<div class="hd" style="left:1005px;top:587px;width:47px"></div>
<div class="hd" style="left:27px;top:607px;width:119px"></div>
<div class="hf" style="left:147px;top:607px;width:100px"></div>
<div class="hd" style="left:248px;top:607px;width:111px"></div>
<div class="hf" style="left:360px;top:607px;width:54px"></div>
<div class="hf" style="left:415px;top:607px;width:54px"></div>
<div class="hf" style="left:470px;top:607px;width:54px"></div>
<div class="hf" style="left:525px;top:607px;width:39px"></div>
<div class="hf" style="left:565px;top:607px;width:40px"></div>
<div class="hf" style="left:606px;top:607px;width:39px"></div>
<div class="hd" style="left:646px;top:607px;width:38px"></div>
<div class="hd" style="left:685px;top:607px;width:38px"></div>
<div class="hd" style="left:724px;top:607px;width:37px"></div>
<div class="hf" style="left:762px;top:607px;width:47px"></div>
<div class="hd" style="left:810px;top:607px;width:48px"></div>
<div class="hd" style="left:859px;top:607px;width:47px"></div>
<div class="hd" style="left:907px;top:607px;width:48px"></div>
<div class="hd" style="left:956px;top:607px;width:48px"></div>
<div class="hd" style="left:1005px;top:607px;width:47px"></div>
<div class="hd" style="left:27px;top:627px;width:119px"></div>
<div class="hf" style="left:147px;top:627px;width:100px"></div>
<div class="hd" style="left:248px;top:627px;width:111px"></div>
<div class="hd" style="left:360px;top:627px;width:54px"></div>
<div class="hd" style="left:415px;top:627px;width:54px"></div>
<div class="hd" style="left:470px;top:627px;width:54px"></div>
<div class="hf" style="left:525px;top:627px;width:39px"></div>
<div class="hf" style="left:565px;top:627px;width:40px"></div>
<div class="hf" style="left:606px;top:627px;width:39px"></div>
<div class="hf" style="left:646px;top:627px;width:38px"></div>
<div class="hf" style="left:685px;top:627px;width:38px"></div>
<div class="hf" style="left:724px;top:627px;width:37px"></div>
<div class="hd" style="left:762px;top:627px;width:47px"></div>
<div class="hd" style="left:810px;top:627px;width:48px"></div>
<div class="hd" style="left:859px;top:627px;width:47px"></div>
<div class="hd" style="left:907px;top:627px;width:48px"></div>
<div class="hd" style="left:956px;top:627px;width:48px"></div>
<div class="hd" style="left:1005px;top:627px;width:47px"></div>
<div class="hd" style="left:27px;top:647px;width:119px"></div>
<div class="hf" style="left:147px;top:647px;width:100px"></div>
<div class="hd" style="left:248px;top:647px;width:111px"></div>
<div class="hf" style="left:360px;top:647px;width:54px"></div>
<div class="hf" style="left:415px;top:647px;width:54px"></div>
<div class="hf" style="left:470px;top:647px;width:54px"></div>
<div class="hf" style="left:525px;top:647px;width:39px"></div>
<div class="hf" style="left:565px;top:647px;width:40px"></div>
<div class="hf" style="left:606px;top:647px;width:39px"></div>
<div class="hf" style="left:646px;top:647px;width:38px"></div>
<div class="hf" style="left:685px;top:647px;width:38px"></div>
<div class="hf" style="left:724px;top:647px;width:37px"></div>
<div class="hd" style="left:762px;top:647px;width:47px"></div>
<div class="hd" style="left:810px;top:647px;width:48px"></div>
<div class="hd" style="left:859px;top:647px;width:47px"></div>
<div class="hd" style="left:907px;top:647px;width:48px"></div>
<div class="hd" style="left:956px;top:647px;width:48px"></div>
<div class="hd" style="left:1005px;top:647px;width:47px"></div>
<div class="hl" style="left:26px;top:668px;width:1027px"></div>
<div class="hd" style="left:27px;top:687px;width:1025px"></div>
<div class="hl" style="left:26px;top:708px;width:1027px"></div>
<div class="vl" style="left:26px;top:65px;height:644px"></div>
<div class="vl" style="left:146px;top:65px;height:644px"></div>
<div class="vl" style="left:247px;top:65px;height:604px"></div>
<div class="vl" style="left:359px;top:65px;height:604px"></div>
<div class="vl" style="left:524px;top:65px;height:604px"></div>
<div class="vl" style="left:645px;top:65px;height:604px"></div>
<div class="vl" style="left:761px;top:65px;height:604px"></div>
<div class="vl" style="left:906px;top:65px;height:604px"></div>
<div class="vl" style="left:1052px;top:65px;height:644px"></div>
<div class="vl" style="left:414px;top:129px;height:21px"></div>
<div class="vd2" style="left:413px;top:150px;height:19px;background-position:0 0px"></div>
<div class="vd" style="left:414px;top:169px;height:20px;background-position:0 -1px"></div>
<div class="vd2" style="left:413px;top:189px;height:40px;background-position:0 -1px"></div>
<div class="vd" style="left:414px;top:229px;height:20px;background-position:0 -1px"></div>
<div class="vd2" style="left:413px;top:249px;height:60px;background-position:0 -1px"></div>
<div class="vd" style="left:414px;top:309px;height:20px;background-position:0 -1px"></div>
<div class="vd2" style="left:413px;top:329px;height:40px;background-position:0 -1px"></div>
<div class="vd" style="left:414px;top:369px;height:20px;background-position:0 -1px"></div>
<div class="vd2" style="left:413px;top:389px;height:80px;background-position:0 -1px"></div>
<div class="vd" style="left:414px;top:469px;height:20px;background-position:0 -1px"></div>
<div class="vd2" style="left:413px;top:489px;height:60px;background-position:0 -1px"></div>
<div class="vd" style="left:414px;top:549px;height:20px;background-position:0 -1px"></div>
<div class="vd2" style="left:413px;top:569px;height:59px;background-position:0 -1px"></div>
<div class="vd" style="left:414px;top:628px;height:20px;background-position:0 0px"></div>
<div class="vd2" style="left:413px;top:648px;height:19px;background-position:0 0px"></div>
<div class="vl" style="left:469px;top:129px;height:21px"></div>
<div class="vd2" style="left:468px;top:150px;height:19px;background-position:0 0px"></div>
<div class="vd" style="left:469px;top:169px;height:20px;background-position:0 -1px"></div>
<div class="vd2" style="left:468px;top:189px;height:120px;background-position:0 -1px"></div>
<div class="vd" style="left:469px;top:309px;height:20px;background-position:0 -1px"></div>
<div class="vd2" style="left:468px;top:329px;height:40px;background-position:0 -1px"></div>
<div class="vd" style="left:469px;top:369px;height:20px;background-position:0 -1px"></div>
<div class="vd2" style="left:468px;top:389px;height:80px;background-position:0 -1px"></div>
<div class="vd" style="left:469px;top:469px;height:20px;background-position:0 -1px"></div>
<div class="vd2" style="left:468px;top:489px;height:60px;background-position:0 -1px"></div>
<div class="vd" style="left:469px;top:549px;height:20px;background-position:0 -1px"></div>
<div class="vd2" style="left:468px;top:569px;height:59px;background-position:0 -1px"></div>
<div class="vd" style="left:469px;top:628px;height:20px;background-position:0 0px"></div>
<div class="vd2" style="left:468px;top:648px;height:19px;background-position:0 0px"></div>
<div class="vl" style="left:564px;top:129px;height:21px"></div>
<div class="vd2" style="left:563px;top:150px;height:517px;background-position:0 0px"></div>
<div class="vl" style="left:605px;top:129px;height:21px"></div>
<div class="vd2" style="left:604px;top:150px;height:517px;background-position:0 0px"></div>
<div class="vl" style="left:684px;top:129px;height:21px"></div>
<div class="vd2" style="left:683px;top:150px;height:19px;background-position:0 0px"></div>
<div class="vd" style="left:684px;top:169px;height:20px;background-position:0 -1px"></div>
<div class="vd2" style="left:683px;top:189px;height:40px;background-position:0 -1px"></div>
<div class="vd" style="left:684px;top:229px;height:20px;background-position:0 -1px"></div>
<div class="vd2" style="left:683px;top:249px;height:60px;background-position:0 -1px"></div>
<div class="vd" style="left:684px;top:309px;height:20px;background-position:0 -1px"></div>
<div class="vd2" style="left:683px;top:329px;height:20px;background-position:0 -1px"></div>
<div class="vd" style="left:684px;top:349px;height:40px;background-position:0 -1px"></div>
<div class="vd2" style="left:683px;top:389px;height:80px;background-position:0 -1px"></div>
<div class="vd" style="left:684px;top:469px;height:20px;background-position:0 -1px"></div>
<div class="vd2" style="left:683px;top:489px;height:40px;background-position:0 -1px"></div>
<div class="vd" style="left:684px;top:529px;height:20px;background-position:0 -1px"></div>
<div class="vd2" style="left:683px;top:549px;height:20px;background-position:0 -1px"></div>
<div class="vd" style="left:684px;top:569px;height:19px;background-position:0 -1px"></div>
<div class="vd2" style="left:683px;top:588px;height:20px;background-position:0 0px"></div>
<div class="vd" style="left:684px;top:608px;height:20px;background-position:0 0px"></div>
<div class="vd2" style="left:683px;top:628px;height:39px;background-position:0 0px"></div>
<div class="vl" style="left:723px;top:129px;height:21px"></div>
<div class="vd2" style="left:722px;top:150px;height:19px;background-position:0 0px"></div>
<div class="vd" style="left:723px;top:169px;height:20px;background-position:0 -1px"></div>
<div class="vd2" style="left:722px;top:189px;height:40px;background-position:0 -1px"></div>
<div class="vd" style="left:723px;top:229px;height:20px;background-position:0 -1px"></div>
<div class="vd2" style="left:722px;top:249px;height:60px;background-position:0 -1px"></div>
<div class="vd" style="left:723px;top:309px;height:20px;background-position:0 -1px"></div>
<div class="vd2" style="left:722px;top:329px;height:20px;background-position:0 -1px"></div>
<div class="vd" style="left:723px;top:349px;height:40px;background-position:0 -1px"></div>
<div class="vd2" style="left:722px;top:389px;height:80px;background-position:0 -1px"></div>
<div class="vd" style="left:723px;top:469px;height:20px;background-position:0 -1px"></div>
<div class="vd2" style="left:722px;top:489px;height:40px;background-position:0 -1px"></div>
<div class="vd" style="left:723px;top:529px;height:20px;background-position:0 -1px"></div>
<div class="vd2" style="left:722px;top:549px;height:20px;background-position:0 -1px"></div>
<div class="vd" style="left:723px;top:569px;height:19px;background-position:0 -1px"></div>
<div class="vd2" style="left:722px;top:588px;height:20px;background-position:0 0px"></div>
<div class="vd" style="left:723px;top:608px;height:20px;background-position:0 0px"></div>
<div class="vd2" style="left:722px;top:628px;height:39px;background-position:0 0px"></div>
<div class="vl" style="left:809px;top:129px;height:21px"></div>
<div class="vd" style="left:809px;top:150px;height:19px;background-position:0 0px"></div>
<div class="vd2" style="left:808px;top:169px;height:20px;background-position:0 -1px"></div>
<div class="vd" style="left:809px;top:189px;height:60px;background-position:0 -1px"></div>
<div class="vd2" style="left:808px;top:249px;height:40px;background-position:0 -1px"></div>
<div class="vd" style="left:809px;top:289px;height:140px;background-position:0 -1px"></div>
<div class="vd2" style="left:808px;top:429px;height:20px;background-position:0 -1px"></div>
<div class="vd" style="left:809px;top:449px;height:159px;background-position:0 -1px"></div>
<div class="vd2" style="left:808px;top:608px;height:20px;background-position:0 0px"></div>
<div class="vd" style="left:809px;top:628px;height:39px;background-position:0 0px"></div>
<div class="vl" style="left:858px;top:129px;height:21px"></div>
<div class="vd" style="left:858px;top:150px;height:19px;background-position:0 0px"></div>
<div class="vd2" style="left:857px;top:169px;height:20px;background-position:0 -1px"></div>
<div class="vd" style="left:858px;top:189px;height:60px;background-position:0 -1px"></div>
<div class="vd2" style="left:857px;top:249px;height:40px;background-position:0 -1px"></div>
<div class="vd" style="left:858px;top:289px;height:140px;background-position:0 -1px"></div>
<div class="vd2" style="left:857px;top:429px;height:20px;background-position:0 -1px"></div>
<div class="vd" style="left:858px;top:449px;height:218px;background-position:0 -1px"></div>
<div class="vl" style="left:955px;top:129px;height:21px"></div>
<div class="vd" style="left:955px;top:150px;height:517px;background-position:0 0px"></div>
<div class="vl" style="left:1004px;top:129px;height:21px"></div>
<div class="vd" style="left:1004px;top:150px;height:517px;background-position:0 0px"></div>
<div class="t" id="title" style="left:69.1px;top:18.5px;font-size:19.5px;line-height:24px;color:#f59205;transform:scaleX(.9605);transform-origin:0 50%">Індикатори визначення рівнів епідемічної небезпеки відповідно до постанови КМУ від 9 грудня 2020 р. № 1236</div>
<div class="t" id="stanom" style="left:63.4px;top:46.6px;font-size:16.4px;line-height:20px;transform:scaleX(.969);transform-origin:100% 50%">Станом на</div>
<div class="t" id="datebig" style="left:147px;top:43.3px;width:100px;text-align:center;font-size:20.1px;line-height:24px;transform:scaleX(.914)">08.02.2022</div>
<div class="t" id="dani" style="left:836px;top:49.1px;font-size:16px;line-height:18px">Дані доступні за</div><div class="t" id="dani2" style="left:959px;top:49.1px;font-size:15.8px;line-height:18px">07.02.2022</div>
</body></html>
